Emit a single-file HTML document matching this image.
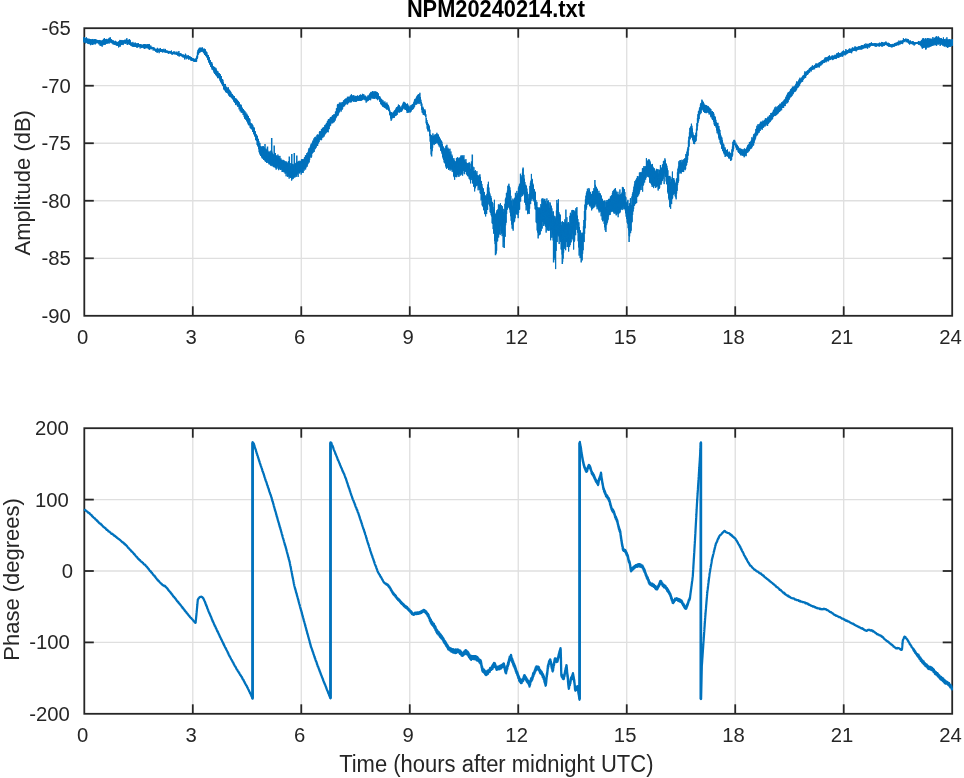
<!DOCTYPE html>
<html><head><meta charset="utf-8"><style>
html,body{margin:0;padding:0;background:#fff;}
svg{display:block;will-change:transform;}
text{font-family:"Liberation Sans",Arial,sans-serif;fill:#262626;}
.t{font-size:20.3px;}
.ti{font-size:21.8px;font-weight:bold;fill:#000;}
.xl{font-size:22px;}
</style></head><body>
<svg width="964" height="778" viewBox="0 0 964 778">
<line x1="192.79" y1="28.20" x2="192.79" y2="315.80" stroke="#dfdfdf" stroke-width="1.3"/>
<line x1="301.28" y1="28.20" x2="301.28" y2="315.80" stroke="#dfdfdf" stroke-width="1.3"/>
<line x1="409.76" y1="28.20" x2="409.76" y2="315.80" stroke="#dfdfdf" stroke-width="1.3"/>
<line x1="518.25" y1="28.20" x2="518.25" y2="315.80" stroke="#dfdfdf" stroke-width="1.3"/>
<line x1="626.74" y1="28.20" x2="626.74" y2="315.80" stroke="#dfdfdf" stroke-width="1.3"/>
<line x1="735.23" y1="28.20" x2="735.23" y2="315.80" stroke="#dfdfdf" stroke-width="1.3"/>
<line x1="843.71" y1="28.20" x2="843.71" y2="315.80" stroke="#dfdfdf" stroke-width="1.3"/>
<line x1="84.30" y1="85.72" x2="952.20" y2="85.72" stroke="#dfdfdf" stroke-width="1.3"/>
<line x1="84.30" y1="143.24" x2="952.20" y2="143.24" stroke="#dfdfdf" stroke-width="1.3"/>
<line x1="84.30" y1="200.76" x2="952.20" y2="200.76" stroke="#dfdfdf" stroke-width="1.3"/>
<line x1="84.30" y1="258.28" x2="952.20" y2="258.28" stroke="#dfdfdf" stroke-width="1.3"/>
<line x1="192.79" y1="428.20" x2="192.79" y2="713.80" stroke="#dfdfdf" stroke-width="1.3"/>
<line x1="301.28" y1="428.20" x2="301.28" y2="713.80" stroke="#dfdfdf" stroke-width="1.3"/>
<line x1="409.76" y1="428.20" x2="409.76" y2="713.80" stroke="#dfdfdf" stroke-width="1.3"/>
<line x1="518.25" y1="428.20" x2="518.25" y2="713.80" stroke="#dfdfdf" stroke-width="1.3"/>
<line x1="626.74" y1="428.20" x2="626.74" y2="713.80" stroke="#dfdfdf" stroke-width="1.3"/>
<line x1="735.23" y1="428.20" x2="735.23" y2="713.80" stroke="#dfdfdf" stroke-width="1.3"/>
<line x1="843.71" y1="428.20" x2="843.71" y2="713.80" stroke="#dfdfdf" stroke-width="1.3"/>
<line x1="84.30" y1="499.60" x2="952.20" y2="499.60" stroke="#dfdfdf" stroke-width="1.3"/>
<line x1="84.30" y1="571.00" x2="952.20" y2="571.00" stroke="#dfdfdf" stroke-width="1.3"/>
<line x1="84.30" y1="642.40" x2="952.20" y2="642.40" stroke="#dfdfdf" stroke-width="1.3"/>
<rect x="84.30" y="28.20" width="867.90" height="287.60" fill="none" stroke="#262626" stroke-width="1.8"/>
<line x1="192.79" y1="28.20" x2="192.79" y2="37.70" stroke="#262626" stroke-width="1.8"/>
<line x1="192.79" y1="315.80" x2="192.79" y2="306.30" stroke="#262626" stroke-width="1.8"/>
<line x1="301.28" y1="28.20" x2="301.28" y2="37.70" stroke="#262626" stroke-width="1.8"/>
<line x1="301.28" y1="315.80" x2="301.28" y2="306.30" stroke="#262626" stroke-width="1.8"/>
<line x1="409.76" y1="28.20" x2="409.76" y2="37.70" stroke="#262626" stroke-width="1.8"/>
<line x1="409.76" y1="315.80" x2="409.76" y2="306.30" stroke="#262626" stroke-width="1.8"/>
<line x1="518.25" y1="28.20" x2="518.25" y2="37.70" stroke="#262626" stroke-width="1.8"/>
<line x1="518.25" y1="315.80" x2="518.25" y2="306.30" stroke="#262626" stroke-width="1.8"/>
<line x1="626.74" y1="28.20" x2="626.74" y2="37.70" stroke="#262626" stroke-width="1.8"/>
<line x1="626.74" y1="315.80" x2="626.74" y2="306.30" stroke="#262626" stroke-width="1.8"/>
<line x1="735.23" y1="28.20" x2="735.23" y2="37.70" stroke="#262626" stroke-width="1.8"/>
<line x1="735.23" y1="315.80" x2="735.23" y2="306.30" stroke="#262626" stroke-width="1.8"/>
<line x1="843.71" y1="28.20" x2="843.71" y2="37.70" stroke="#262626" stroke-width="1.8"/>
<line x1="843.71" y1="315.80" x2="843.71" y2="306.30" stroke="#262626" stroke-width="1.8"/>
<line x1="84.30" y1="85.72" x2="93.80" y2="85.72" stroke="#262626" stroke-width="1.8"/>
<line x1="952.20" y1="85.72" x2="942.70" y2="85.72" stroke="#262626" stroke-width="1.8"/>
<line x1="84.30" y1="143.24" x2="93.80" y2="143.24" stroke="#262626" stroke-width="1.8"/>
<line x1="952.20" y1="143.24" x2="942.70" y2="143.24" stroke="#262626" stroke-width="1.8"/>
<line x1="84.30" y1="200.76" x2="93.80" y2="200.76" stroke="#262626" stroke-width="1.8"/>
<line x1="952.20" y1="200.76" x2="942.70" y2="200.76" stroke="#262626" stroke-width="1.8"/>
<line x1="84.30" y1="258.28" x2="93.80" y2="258.28" stroke="#262626" stroke-width="1.8"/>
<line x1="952.20" y1="258.28" x2="942.70" y2="258.28" stroke="#262626" stroke-width="1.8"/>
<rect x="84.30" y="428.20" width="867.90" height="285.60" fill="none" stroke="#262626" stroke-width="1.8"/>
<line x1="192.79" y1="428.20" x2="192.79" y2="437.70" stroke="#262626" stroke-width="1.8"/>
<line x1="192.79" y1="713.80" x2="192.79" y2="704.30" stroke="#262626" stroke-width="1.8"/>
<line x1="301.28" y1="428.20" x2="301.28" y2="437.70" stroke="#262626" stroke-width="1.8"/>
<line x1="301.28" y1="713.80" x2="301.28" y2="704.30" stroke="#262626" stroke-width="1.8"/>
<line x1="409.76" y1="428.20" x2="409.76" y2="437.70" stroke="#262626" stroke-width="1.8"/>
<line x1="409.76" y1="713.80" x2="409.76" y2="704.30" stroke="#262626" stroke-width="1.8"/>
<line x1="518.25" y1="428.20" x2="518.25" y2="437.70" stroke="#262626" stroke-width="1.8"/>
<line x1="518.25" y1="713.80" x2="518.25" y2="704.30" stroke="#262626" stroke-width="1.8"/>
<line x1="626.74" y1="428.20" x2="626.74" y2="437.70" stroke="#262626" stroke-width="1.8"/>
<line x1="626.74" y1="713.80" x2="626.74" y2="704.30" stroke="#262626" stroke-width="1.8"/>
<line x1="735.23" y1="428.20" x2="735.23" y2="437.70" stroke="#262626" stroke-width="1.8"/>
<line x1="735.23" y1="713.80" x2="735.23" y2="704.30" stroke="#262626" stroke-width="1.8"/>
<line x1="843.71" y1="428.20" x2="843.71" y2="437.70" stroke="#262626" stroke-width="1.8"/>
<line x1="843.71" y1="713.80" x2="843.71" y2="704.30" stroke="#262626" stroke-width="1.8"/>
<line x1="84.30" y1="499.60" x2="93.80" y2="499.60" stroke="#262626" stroke-width="1.8"/>
<line x1="952.20" y1="499.60" x2="942.70" y2="499.60" stroke="#262626" stroke-width="1.8"/>
<line x1="84.30" y1="571.00" x2="93.80" y2="571.00" stroke="#262626" stroke-width="1.8"/>
<line x1="952.20" y1="571.00" x2="942.70" y2="571.00" stroke="#262626" stroke-width="1.8"/>
<line x1="84.30" y1="642.40" x2="93.80" y2="642.40" stroke="#262626" stroke-width="1.8"/>
<line x1="952.20" y1="642.40" x2="942.70" y2="642.40" stroke="#262626" stroke-width="1.8"/>
<clipPath id="c1"><rect x="83.2" y="28.2" width="869.8" height="287.6"/></clipPath>
<path d="M83.40,37.33 L83.65,41.77 L83.90,37.33 L84.15,42.75 L84.40,37.41 L84.65,41.74 L84.90,38.07 L85.15,41.58 L85.40,38.34 L85.65,43.40 L85.90,38.06 L86.15,42.74 L86.40,37.29 L86.65,42.38 L86.90,38.21 L87.15,42.86 L87.40,39.04 L87.65,43.67 L87.90,38.65 L88.15,43.13 L88.40,39.72 L88.65,44.07 L88.90,38.78 L89.15,43.53 L89.40,38.92 L89.65,44.02 L89.90,39.15 L90.15,44.46 L90.40,39.16 L90.65,45.20 L90.90,39.81 L91.15,44.12 L91.40,39.29 L91.65,44.11 L91.90,40.58 L92.15,44.98 L92.40,39.02 L92.65,44.90 L92.90,38.96 L93.15,44.48 L93.40,40.13 L93.65,43.58 L93.90,39.50 L94.15,44.09 L94.40,39.19 L94.65,43.09 L94.90,39.30 L95.15,44.47 L95.40,39.43 L95.65,43.76 L95.90,39.26 L96.15,42.82 L96.40,40.23 L96.65,43.17 L96.90,39.85 L97.15,43.30 L97.40,40.10 L97.65,42.67 L97.90,40.44 L98.15,42.79 L98.40,40.30 L98.65,43.65 L98.90,40.28 L99.15,44.57 L99.40,39.97 L99.65,43.99 L99.90,40.62 L100.15,45.83 L100.40,40.58 L100.65,45.39 L100.90,40.51 L101.15,45.95 L101.40,40.79 L101.65,45.37 L101.90,40.89 L102.15,46.71 L102.40,40.35 L102.65,44.82 L102.90,40.25 L103.15,45.16 L103.40,38.90 L103.65,44.29 L103.90,39.48 L104.15,44.58 L104.40,38.11 L104.65,44.58 L104.90,39.75 L105.15,44.84 L105.40,39.21 L105.65,43.93 L105.90,39.31 L106.15,43.74 L106.40,38.90 L106.65,43.33 L106.90,39.23 L107.15,43.81 L107.40,39.56 L107.65,42.97 L107.90,39.77 L108.15,43.28 L108.40,38.60 L108.65,43.05 L108.90,38.84 L109.15,43.58 L109.40,37.70 L109.65,42.11 L109.90,38.39 L110.15,42.15 L110.40,37.39 L110.65,42.38 L110.90,39.64 L111.15,43.07 L111.40,39.23 L111.65,43.13 L111.90,39.85 L112.15,43.17 L112.40,40.47 L112.65,43.55 L112.90,40.53 L113.15,44.48 L113.40,40.60 L113.65,43.74 L113.90,40.89 L114.15,44.59 L114.40,41.65 L114.65,44.76 L114.90,41.80 L115.15,44.32 L115.40,40.82 L115.65,44.79 L115.90,42.27 L116.15,45.38 L116.40,41.62 L116.65,45.51 L116.90,42.06 L117.15,45.51 L117.40,42.27 L117.65,45.97 L117.90,41.85 L118.15,45.59 L118.40,42.13 L118.65,47.44 L118.90,41.20 L119.15,45.92 L119.40,41.09 L119.65,46.47 L119.90,39.90 L120.15,46.68 L120.40,40.24 L120.65,45.38 L120.90,40.55 L121.15,44.96 L121.40,40.56 L121.65,44.63 L121.90,39.96 L122.15,44.65 L122.40,40.45 L122.65,44.25 L122.90,40.82 L123.15,45.08 L123.40,40.54 L123.65,43.68 L123.90,40.26 L124.15,43.08 L124.40,40.13 L124.65,43.54 L124.90,39.69 L125.15,42.93 L125.40,39.93 L125.65,43.90 L125.90,39.92 L126.15,43.16 L126.40,38.89 L126.65,43.26 L126.90,38.21 L127.15,44.72 L127.40,40.37 L127.65,44.93 L127.90,40.01 L128.15,43.87 L128.40,39.94 L128.65,44.20 L128.90,39.76 L129.15,44.11 L129.40,39.06 L129.65,44.77 L129.90,39.84 L130.15,45.01 L130.40,40.59 L130.65,45.30 L130.90,42.01 L131.15,45.96 L131.40,43.10 L131.65,45.96 L131.90,42.73 L132.15,46.46 L132.40,43.68 L132.65,46.39 L132.90,41.90 L133.15,46.71 L133.40,43.46 L133.65,46.72 L133.90,43.50 L134.15,46.63 L134.40,43.78 L134.65,46.67 L134.90,42.69 L135.15,46.99 L135.40,42.76 L135.65,46.92 L135.90,43.21 L136.15,46.78 L136.40,43.64 L136.65,47.45 L136.90,44.12 L137.15,47.49 L137.40,43.32 L137.65,47.42 L137.90,43.80 L138.15,47.12 L138.40,43.08 L138.65,47.02 L138.90,44.64 L139.15,46.77 L139.40,44.58 L139.65,46.64 L139.90,44.06 L140.15,48.49 L140.40,44.09 L140.65,47.03 L140.90,44.32 L141.15,47.29 L141.40,44.75 L141.65,48.05 L141.90,44.72 L142.15,47.54 L142.40,44.88 L142.65,47.24 L142.90,44.87 L143.15,48.03 L143.40,44.53 L143.65,47.48 L143.90,44.25 L144.15,48.72 L144.40,44.22 L144.65,48.99 L144.90,44.14 L145.15,47.92 L145.40,44.97 L145.65,48.29 L145.90,44.07 L146.15,48.20 L146.40,44.71 L146.65,47.92 L146.90,45.06 L147.15,48.11 L147.40,44.47 L147.65,48.19 L147.90,44.02 L148.15,48.39 L148.40,44.24 L148.65,48.80 L148.90,45.32 L149.15,49.61 L149.40,43.98 L149.65,49.84 L149.90,45.77 L150.15,48.68 L150.40,45.87 L150.65,49.10 L150.90,45.64 L151.15,48.97 L151.40,47.01 L151.65,49.24 L151.90,46.82 L152.15,48.97 L152.40,47.47 L152.65,48.96 L152.90,47.48 L153.15,50.55 L153.40,47.32 L153.65,49.85 L153.90,47.15 L154.15,50.14 L154.40,48.17 L154.65,50.55 L154.90,48.28 L155.15,50.59 L155.40,49.04 L155.65,51.79 L155.90,49.07 L156.15,51.27 L156.40,48.98 L156.65,51.87 L156.90,48.72 L157.15,52.93 L157.40,47.84 L157.65,51.88 L157.90,48.98 L158.15,51.16 L158.40,48.85 L158.65,51.86 L158.90,48.82 L159.15,53.20 L159.40,48.92 L159.65,51.39 L159.90,48.66 L160.15,51.79 L160.40,47.97 L160.65,51.82 L160.90,49.48 L161.15,51.81 L161.40,49.10 L161.65,52.05 L161.90,49.48 L162.15,51.42 L162.40,49.22 L162.65,52.50 L162.90,49.32 L163.15,52.00 L163.40,50.03 L163.65,51.92 L163.90,48.74 L164.15,52.37 L164.40,49.86 L164.65,52.08 L164.90,49.89 L165.15,52.46 L165.40,48.93 L165.65,52.53 L165.90,50.61 L166.15,52.67 L166.40,50.81 L166.65,52.48 L166.90,50.32 L167.15,52.89 L167.40,50.81 L167.65,53.12 L167.90,51.20 L168.15,53.27 L168.40,50.88 L168.65,53.88 L168.90,51.39 L169.15,53.09 L169.40,50.95 L169.65,53.19 L169.90,51.20 L170.15,53.34 L170.40,51.24 L170.65,53.27 L170.90,51.73 L171.15,53.92 L171.40,50.51 L171.65,54.02 L171.90,51.78 L172.15,55.01 L172.40,52.11 L172.65,53.54 L172.90,52.09 L173.15,53.86 L173.40,52.12 L173.65,54.14 L173.90,51.20 L174.15,54.20 L174.40,52.24 L174.65,54.14 L174.90,51.56 L175.15,54.42 L175.40,52.68 L175.65,54.08 L175.90,52.62 L176.15,54.55 L176.40,52.43 L176.65,54.76 L176.90,51.56 L177.15,54.75 L177.40,52.62 L177.65,55.66 L177.90,52.80 L178.15,55.25 L178.40,52.66 L178.65,55.61 L178.90,50.99 L179.15,56.62 L179.40,53.39 L179.65,55.76 L179.90,53.18 L180.15,56.11 L180.40,53.22 L180.65,55.79 L180.90,53.47 L181.15,55.97 L181.40,53.80 L181.65,56.17 L181.90,54.13 L182.15,56.87 L182.40,54.92 L182.65,57.29 L182.90,54.53 L183.15,56.77 L183.40,54.73 L183.65,57.49 L183.90,54.85 L184.15,57.36 L184.40,55.06 L184.65,59.44 L184.90,55.00 L185.15,57.91 L185.40,53.68 L185.65,57.51 L185.90,54.56 L186.15,59.31 L186.40,55.81 L186.65,58.29 L186.90,55.87 L187.15,57.83 L187.40,55.86 L187.65,58.52 L187.90,55.42 L188.15,58.26 L188.40,55.40 L188.65,59.65 L188.90,56.17 L189.15,58.69 L189.40,56.18 L189.65,59.35 L189.90,56.04 L190.15,58.93 L190.40,57.08 L190.65,60.04 L190.90,56.99 L191.15,61.04 L191.40,57.08 L191.65,60.55 L191.90,57.89 L192.15,60.49 L192.40,58.16 L192.65,61.00 L192.90,58.27 L193.15,60.79 L193.40,58.56 L193.65,61.47 L193.90,58.78 L194.15,61.80 L194.40,59.37 L194.65,62.00 L194.90,58.83 L195.15,61.95 L195.40,58.73 L195.65,61.52 L195.90,58.62 L196.15,62.04 L196.40,57.47 L196.65,61.47 L196.90,55.72 L197.15,59.04 L197.40,52.34 L197.65,57.68 L197.90,50.29 L198.15,54.72 L198.40,49.19 L198.65,54.25 L198.90,48.60 L199.15,52.58 L199.40,47.71 L199.65,52.98 L199.90,48.11 L200.15,52.24 L200.40,47.70 L200.65,51.51 L200.90,47.88 L201.15,51.79 L201.40,47.76 L201.65,51.56 L201.90,48.69 L202.15,50.74 L202.40,47.40 L202.65,51.69 L202.90,48.42 L203.15,52.22 L203.40,48.95 L203.65,53.26 L203.90,49.24 L204.15,52.91 L204.40,48.62 L204.65,54.98 L204.90,49.18 L205.15,53.72 L205.40,49.45 L205.65,56.11 L205.90,50.93 L206.15,55.00 L206.40,52.11 L206.65,57.07 L206.90,52.26 L207.15,58.01 L207.40,54.78 L207.65,59.74 L207.90,55.81 L208.15,60.22 L208.40,54.96 L208.65,62.24 L208.90,57.37 L209.15,62.90 L209.40,57.43 L209.65,64.40 L209.90,59.94 L210.15,64.88 L210.40,60.05 L210.65,66.80 L210.90,61.91 L211.15,67.05 L211.40,62.13 L211.65,68.25 L211.90,62.42 L212.15,69.72 L212.40,64.22 L212.65,69.37 L212.90,66.20 L213.15,70.26 L213.40,66.39 L213.65,71.49 L213.90,67.84 L214.15,72.91 L214.40,66.87 L214.65,73.79 L214.90,67.39 L215.15,73.51 L215.40,68.97 L215.65,75.21 L215.90,67.92 L216.15,74.61 L216.40,69.56 L216.65,76.34 L216.90,70.66 L217.15,75.46 L217.40,71.39 L217.65,78.14 L217.90,71.31 L218.15,78.14 L218.40,72.80 L218.65,77.55 L218.90,73.14 L219.15,78.22 L219.40,73.28 L219.65,79.45 L219.90,75.63 L220.15,81.06 L220.40,74.24 L220.65,82.36 L220.90,76.07 L221.15,82.11 L221.40,76.04 L221.65,83.84 L221.90,78.95 L222.15,84.60 L222.40,79.18 L222.65,85.95 L222.90,79.76 L223.15,86.22 L223.40,82.27 L223.65,88.90 L223.90,84.30 L224.15,90.06 L224.40,83.91 L224.65,89.79 L224.90,85.45 L225.15,91.09 L225.40,83.97 L225.65,91.94 L225.90,86.56 L226.15,92.52 L226.40,86.86 L226.65,92.61 L226.90,86.98 L227.15,92.62 L227.40,88.22 L227.65,93.14 L227.90,88.88 L228.15,94.15 L228.40,87.33 L228.65,95.42 L228.90,89.45 L229.15,95.29 L229.40,89.85 L229.65,96.53 L229.90,90.54 L230.15,96.77 L230.40,91.37 L230.65,96.68 L230.90,91.92 L231.15,97.56 L231.40,93.56 L231.65,97.76 L231.90,94.18 L232.15,98.67 L232.40,93.94 L232.65,99.33 L232.90,95.51 L233.15,99.42 L233.40,95.70 L233.65,101.30 L233.90,96.15 L234.15,101.74 L234.40,96.30 L234.65,102.49 L234.90,97.94 L235.15,103.05 L235.40,98.36 L235.65,105.06 L235.90,98.93 L236.15,102.96 L236.40,98.69 L236.65,104.34 L236.90,99.53 L237.15,105.46 L237.40,99.99 L237.65,106.71 L237.90,100.87 L238.15,105.98 L238.40,101.10 L238.65,106.73 L238.90,102.83 L239.15,109.41 L239.40,102.41 L239.65,108.98 L239.90,104.19 L240.15,111.30 L240.40,105.06 L240.65,111.03 L240.90,104.60 L241.15,112.48 L241.40,105.48 L241.65,112.46 L241.90,107.80 L242.15,112.80 L242.40,107.74 L242.65,112.82 L242.90,109.09 L243.15,115.01 L243.40,109.02 L243.65,114.45 L243.90,111.01 L244.15,116.90 L244.40,110.50 L244.65,118.62 L244.90,111.10 L245.15,118.59 L245.40,113.31 L245.65,119.49 L245.90,112.41 L246.15,119.95 L246.40,114.61 L246.65,120.96 L246.90,113.76 L247.15,121.89 L247.40,115.14 L247.65,122.82 L247.90,116.21 L248.15,124.26 L248.40,115.91 L248.65,125.26 L248.90,118.29 L249.15,124.38 L249.40,118.27 L249.65,125.38 L249.90,119.25 L250.15,127.75 L250.40,122.70 L250.65,128.22 L250.90,123.60 L251.15,128.84 L251.40,123.49 L251.65,129.10 L251.90,123.68 L252.15,129.74 L252.40,124.69 L252.65,131.88 L252.90,125.40 L253.15,132.02 L253.40,127.63 L253.65,133.96 L253.90,127.12 L254.15,134.67 L254.40,128.03 L254.65,136.24 L254.90,131.32 L255.15,136.75 L255.40,131.43 L255.65,140.03 L255.90,133.90 L256.15,140.42 L256.40,134.55 L256.65,141.08 L256.90,136.54 L257.15,144.97 L257.40,135.76 L257.65,145.70 L257.90,138.75 L258.15,146.90 L258.40,138.91 L258.65,149.18 L258.90,141.16 L259.15,152.22 L259.40,142.97 L259.65,153.46 L259.90,142.93 L260.15,154.74 L260.40,145.93 L260.65,155.89 L260.90,146.64 L261.15,155.42 L261.40,146.92 L261.65,157.18 L261.90,146.50 L262.15,158.28 L262.40,146.39 L262.65,158.22 L262.90,148.61 L263.15,158.85 L263.40,146.17 L263.65,159.96 L263.90,147.96 L264.15,158.52 L264.40,147.34 L264.65,160.27 L264.90,149.49 L265.15,161.33 L265.40,150.35 L265.65,161.71 L265.90,148.53 L266.15,160.48 L266.40,149.59 L266.65,162.88 L266.90,150.17 L267.15,163.00 L267.40,152.16 L267.65,161.36 L267.90,150.69 L268.15,161.76 L268.40,152.09 L268.65,163.43 L268.90,151.71 L269.15,164.44 L269.40,152.56 L269.65,164.22 L269.90,151.41 L270.15,163.97 L270.40,153.56 L270.65,165.38 L270.90,150.64 L271.15,165.87 L271.40,150.80 L271.65,164.69 L271.90,151.59 L272.15,166.21 L272.40,153.27 L272.65,164.84 L272.90,153.94 L273.15,166.40 L273.40,154.64 L273.65,166.86 L273.90,155.52 L274.15,167.38 L274.40,153.63 L274.65,167.18 L274.90,154.73 L275.15,166.81 L275.40,152.97 L275.65,168.09 L275.90,155.90 L276.15,169.63 L276.40,155.50 L276.65,168.54 L276.90,155.73 L277.15,167.64 L277.40,156.83 L277.65,166.40 L277.90,154.55 L278.15,168.95 L278.40,155.96 L278.65,170.18 L278.90,155.96 L279.15,167.37 L279.40,158.24 L279.65,168.66 L279.90,155.90 L280.15,169.70 L280.40,159.01 L280.65,169.69 L280.90,158.36 L281.15,169.97 L281.40,159.82 L281.65,168.90 L281.90,160.54 L282.15,172.02 L282.40,160.72 L282.65,171.85 L282.90,159.76 L283.15,171.63 L283.40,160.64 L283.65,171.61 L283.90,160.16 L284.15,172.44 L284.40,161.13 L284.65,171.80 L284.90,163.72 L285.15,173.75 L285.40,162.21 L285.65,173.17 L285.90,161.00 L286.15,176.30 L286.40,162.11 L286.65,172.81 L286.90,163.89 L287.15,173.69 L287.40,162.55 L287.65,176.83 L287.90,165.54 L288.15,176.64 L288.40,161.07 L288.65,175.66 L288.90,162.81 L289.15,178.65 L289.40,164.78 L289.65,177.00 L289.90,163.81 L290.15,176.80 L290.40,166.21 L290.65,177.94 L290.90,162.97 L291.15,177.51 L291.40,163.90 L291.65,180.59 L291.90,164.55 L292.15,177.31 L292.40,164.30 L292.65,179.28 L292.90,163.82 L293.15,178.81 L293.40,164.63 L293.65,177.77 L293.90,165.51 L294.15,175.91 L294.40,165.77 L294.65,177.45 L294.90,163.73 L295.15,177.22 L295.40,163.26 L295.65,174.98 L295.90,164.39 L296.15,176.57 L296.40,161.80 L296.65,176.53 L296.90,161.97 L297.15,174.66 L297.40,161.79 L297.65,173.68 L297.90,162.08 L298.15,176.94 L298.40,161.61 L298.65,172.61 L298.90,160.89 L299.15,173.33 L299.40,162.11 L299.65,173.28 L299.90,160.81 L300.15,172.08 L300.40,161.28 L300.65,172.16 L300.90,161.72 L301.15,174.62 L301.40,159.65 L301.65,173.03 L301.90,159.17 L302.15,172.99 L302.40,159.58 L302.65,171.89 L302.90,159.13 L303.15,172.92 L303.40,160.15 L303.65,169.15 L303.90,158.93 L304.15,170.67 L304.40,157.47 L304.65,168.90 L304.90,157.09 L305.15,168.23 L305.40,155.22 L305.65,169.50 L305.90,155.84 L306.15,167.51 L306.40,155.35 L306.65,165.57 L306.90,153.00 L307.15,166.68 L307.40,153.54 L307.65,164.68 L307.90,152.22 L308.15,163.61 L308.40,150.54 L308.65,162.03 L308.90,148.41 L309.15,162.50 L309.40,148.68 L309.65,159.95 L309.90,147.61 L310.15,157.33 L310.40,146.30 L310.65,156.39 L310.90,144.50 L311.15,157.84 L311.40,143.53 L311.65,156.62 L311.90,144.33 L312.15,153.67 L312.40,142.16 L312.65,152.91 L312.90,140.58 L313.15,152.52 L313.40,141.12 L313.65,150.43 L313.90,138.47 L314.15,151.91 L314.40,138.73 L314.65,148.39 L314.90,137.16 L315.15,149.21 L315.40,136.76 L315.65,148.17 L315.90,138.61 L316.15,147.52 L316.40,137.91 L316.65,145.74 L316.90,135.35 L317.15,145.40 L317.40,134.43 L317.65,145.99 L317.90,135.15 L318.15,143.61 L318.40,134.95 L318.65,142.76 L318.90,134.53 L319.15,141.89 L319.40,132.02 L319.65,139.90 L319.90,131.01 L320.15,138.93 L320.40,131.65 L320.65,139.90 L320.90,131.22 L321.15,140.27 L321.40,129.11 L321.65,139.77 L321.90,129.43 L322.15,137.40 L322.40,127.80 L322.65,137.55 L322.90,129.77 L323.15,137.32 L323.40,127.65 L323.65,135.74 L323.90,127.15 L324.15,136.49 L324.40,126.74 L324.65,134.78 L324.90,124.93 L325.15,134.26 L325.40,125.45 L325.65,133.20 L325.90,124.33 L326.15,133.18 L326.40,122.88 L326.65,131.62 L326.90,123.71 L327.15,131.91 L327.40,120.93 L327.65,132.06 L327.90,120.78 L328.15,132.33 L328.40,119.15 L328.65,128.82 L328.90,119.03 L329.15,129.18 L329.40,119.30 L329.65,126.59 L329.90,118.51 L330.15,125.38 L330.40,117.13 L330.65,125.61 L330.90,117.01 L331.15,123.62 L331.40,116.72 L331.65,121.92 L331.90,117.53 L332.15,123.02 L332.40,115.49 L332.65,123.35 L332.90,115.22 L333.15,122.48 L333.40,115.62 L333.65,122.21 L333.90,114.25 L334.15,122.16 L334.40,114.69 L334.65,119.99 L334.90,114.25 L335.15,120.62 L335.40,111.66 L335.65,118.70 L335.90,111.57 L336.15,117.64 L336.40,108.43 L336.65,117.07 L336.90,108.16 L337.15,114.88 L337.40,104.80 L337.65,115.90 L337.90,103.95 L338.15,115.35 L338.40,103.94 L338.65,113.68 L338.90,105.53 L339.15,112.23 L339.40,102.58 L339.65,112.27 L339.90,105.19 L340.15,110.34 L340.40,103.31 L340.65,110.14 L340.90,102.38 L341.15,111.60 L341.40,104.12 L341.65,109.42 L341.90,102.54 L342.15,109.75 L342.40,102.04 L342.65,108.79 L342.90,102.24 L343.15,106.90 L343.40,100.73 L343.65,106.42 L343.90,100.27 L344.15,105.84 L344.40,100.33 L344.65,106.27 L344.90,99.16 L345.15,104.67 L345.40,98.91 L345.65,104.39 L345.90,98.49 L346.15,103.48 L346.40,98.89 L346.65,103.39 L346.90,98.28 L347.15,104.48 L347.40,96.77 L347.65,104.29 L347.90,97.79 L348.15,102.98 L348.40,96.82 L348.65,103.16 L348.90,96.80 L349.15,101.66 L349.40,97.09 L349.65,101.74 L349.90,96.58 L350.15,102.60 L350.40,95.42 L350.65,101.41 L350.90,96.34 L351.15,102.16 L351.40,94.24 L351.65,102.19 L351.90,96.26 L352.15,101.01 L352.40,95.72 L352.65,101.06 L352.90,95.47 L353.15,101.07 L353.40,95.54 L353.65,101.67 L353.90,95.29 L354.15,101.79 L354.40,96.53 L354.65,100.64 L354.90,96.78 L355.15,101.55 L355.40,95.89 L355.65,101.82 L355.90,96.42 L356.15,101.57 L356.40,96.26 L356.65,101.45 L356.90,96.35 L357.15,100.79 L357.40,95.40 L357.65,100.64 L357.90,96.03 L358.15,100.51 L358.40,96.14 L358.65,101.02 L358.90,96.52 L359.15,100.05 L359.40,95.00 L359.65,100.78 L359.90,95.68 L360.15,100.91 L360.40,94.49 L360.65,100.54 L360.90,95.95 L361.15,100.71 L361.40,95.16 L361.65,100.37 L361.90,95.08 L362.15,99.91 L362.40,93.84 L362.65,100.11 L362.90,93.99 L363.15,99.44 L363.40,94.84 L363.65,98.80 L363.90,94.42 L364.15,99.60 L364.40,96.09 L364.65,99.51 L364.90,95.65 L365.15,100.40 L365.40,95.80 L365.65,99.99 L365.90,96.24 L366.15,102.63 L366.40,97.67 L366.65,101.42 L366.90,97.03 L367.15,101.32 L367.40,97.19 L367.65,101.11 L367.90,95.54 L368.15,100.99 L368.40,95.76 L368.65,99.89 L368.90,95.55 L369.15,99.00 L369.40,94.22 L369.65,100.09 L369.90,93.53 L370.15,99.14 L370.40,93.10 L370.65,100.22 L370.90,91.91 L371.15,98.52 L371.40,92.70 L371.65,97.38 L371.90,92.03 L372.15,98.26 L372.40,91.05 L372.65,98.36 L372.90,92.03 L373.15,98.46 L373.40,92.65 L373.65,98.50 L373.90,91.21 L374.15,98.39 L374.40,92.30 L374.65,98.90 L374.90,91.41 L375.15,97.88 L375.40,91.89 L375.65,97.41 L375.90,91.40 L376.15,99.09 L376.40,92.00 L376.65,99.08 L376.90,94.25 L377.15,98.09 L377.40,92.22 L377.65,100.20 L377.90,93.79 L378.15,98.47 L378.40,93.43 L378.65,99.05 L378.90,96.32 L379.15,99.54 L379.40,96.38 L379.65,101.62 L379.90,96.53 L380.15,102.02 L380.40,97.73 L380.65,103.84 L380.90,98.93 L381.15,104.50 L381.40,98.83 L381.65,104.83 L381.90,99.54 L382.15,105.62 L382.40,101.49 L382.65,106.42 L382.90,100.13 L383.15,106.90 L383.40,101.71 L383.65,106.87 L383.90,102.47 L384.15,107.47 L384.40,102.45 L384.65,107.60 L384.90,101.42 L385.15,108.09 L385.40,103.66 L385.65,108.19 L385.90,103.12 L386.15,108.74 L386.40,104.05 L386.65,109.53 L386.90,102.50 L387.15,109.16 L387.40,104.09 L387.65,109.41 L387.90,104.68 L388.15,109.64 L388.40,105.33 L388.65,110.76 L388.90,106.56 L389.15,111.36 L389.40,108.61 L389.65,114.75 L389.90,110.50 L390.15,115.59 L390.40,111.93 L390.65,118.52 L390.90,112.59 L391.15,120.81 L391.40,112.23 L391.65,119.84 L391.90,112.72 L392.15,118.02 L392.40,112.85 L392.65,118.28 L392.90,113.43 L393.15,116.37 L393.40,111.71 L393.65,117.80 L393.90,111.95 L394.15,117.94 L394.40,110.74 L394.65,116.47 L394.90,110.28 L395.15,116.05 L395.40,109.73 L395.65,115.68 L395.90,108.62 L396.15,115.59 L396.40,107.57 L396.65,115.08 L396.90,107.01 L397.15,114.78 L397.40,107.03 L397.65,112.27 L397.90,106.30 L398.15,112.55 L398.40,104.55 L398.65,111.77 L398.90,105.08 L399.15,111.08 L399.40,105.36 L399.65,112.64 L399.90,106.21 L400.15,111.90 L400.40,107.33 L400.65,111.31 L400.90,107.87 L401.15,111.61 L401.40,107.84 L401.65,111.61 L401.90,105.69 L402.15,110.59 L402.40,104.88 L402.65,109.93 L402.90,103.57 L403.15,108.52 L403.40,102.31 L403.65,108.45 L403.90,101.76 L404.15,106.91 L404.40,102.40 L404.65,108.82 L404.90,102.62 L405.15,110.00 L405.40,102.96 L405.65,109.88 L405.90,104.39 L406.15,109.99 L406.40,103.94 L406.65,111.04 L406.90,104.08 L407.15,113.04 L407.40,103.48 L407.65,111.98 L407.90,104.59 L408.15,112.91 L408.40,106.57 L408.65,112.01 L408.90,105.72 L409.15,111.35 L409.40,106.79 L409.65,112.29 L409.90,107.57 L410.15,112.50 L410.40,106.71 L410.65,111.93 L410.90,105.22 L411.15,111.37 L411.40,105.55 L411.65,110.01 L411.90,104.79 L412.15,109.35 L412.40,104.31 L412.65,109.72 L412.90,104.21 L413.15,108.88 L413.40,103.32 L413.65,108.42 L413.90,101.81 L414.15,107.35 L414.40,100.32 L414.65,106.60 L414.90,98.97 L415.15,104.95 L415.40,98.74 L415.65,104.28 L415.90,98.77 L416.15,103.92 L416.40,97.23 L416.65,104.65 L416.90,96.31 L417.15,102.45 L417.40,95.46 L417.65,103.63 L417.90,94.84 L418.15,103.22 L418.40,94.51 L418.65,103.20 L418.90,94.01 L419.15,104.09 L419.40,94.56 L419.65,102.19 L419.90,92.77 L420.15,101.11 L420.40,97.06 L420.65,103.40 L420.90,99.68 L421.15,105.87 L421.40,102.12 L421.65,109.74 L421.90,103.58 L422.15,112.60 L422.40,107.04 L422.65,112.85 L422.90,106.73 L423.15,114.60 L423.40,108.07 L423.65,114.71 L423.90,110.63 L424.15,115.07 L424.40,109.78 L424.65,115.07 L424.90,109.38 L425.15,115.82 L425.40,110.80 L425.65,117.09 L425.90,114.36 L426.15,123.37 L426.40,117.96 L426.65,124.97 L426.90,120.03 L427.15,128.69 L427.40,122.01 L427.65,130.24 L427.90,124.02 L428.15,131.60 L428.40,123.77 L428.65,130.56 L428.90,125.28 L429.15,130.46 L429.40,126.46 L429.65,136.13 L429.90,129.65 L430.15,141.68 L430.40,134.22 L430.65,149.05 L430.90,134.86 L431.15,154.50 L431.40,135.22 L431.65,152.22 L431.90,136.17 L432.15,150.85 L432.40,136.30 L432.65,147.89 L432.90,133.44 L433.15,144.29 L433.40,135.95 L433.65,143.88 L433.90,135.51 L434.15,145.07 L434.40,135.57 L434.65,142.63 L434.90,134.54 L435.15,144.04 L435.40,135.48 L435.65,143.97 L435.90,134.09 L436.15,143.17 L436.40,134.51 L436.65,142.50 L436.90,132.77 L437.15,142.09 L437.40,134.60 L437.65,143.17 L437.90,134.28 L438.15,144.33 L438.40,134.78 L438.65,144.88 L438.90,137.44 L439.15,146.53 L439.40,136.77 L439.65,145.78 L439.90,138.74 L440.15,147.60 L440.40,138.79 L440.65,150.56 L440.90,140.77 L441.15,151.06 L441.40,140.62 L441.65,152.39 L441.90,141.71 L442.15,154.14 L442.40,144.05 L442.65,157.16 L442.90,146.72 L443.15,158.56 L443.40,146.62 L443.65,159.99 L443.90,149.62 L444.15,162.44 L444.40,149.39 L444.65,162.68 L444.90,147.83 L445.15,163.70 L445.40,149.13 L445.65,166.23 L445.90,145.82 L446.15,167.70 L446.40,146.55 L446.65,168.95 L446.90,144.77 L447.15,167.35 L447.40,149.06 L447.65,167.60 L447.90,147.65 L448.15,168.08 L448.40,148.84 L448.65,169.91 L448.90,149.24 L449.15,169.44 L449.40,152.00 L449.65,168.50 L449.90,148.69 L450.15,170.63 L450.40,153.91 L450.65,169.21 L450.90,151.44 L451.15,167.55 L451.40,157.07 L451.65,169.68 L451.90,154.59 L452.15,171.66 L452.40,156.21 L452.65,169.76 L452.90,158.57 L453.15,172.14 L453.40,159.79 L453.65,176.21 L453.90,158.17 L454.15,177.15 L454.40,160.49 L454.65,179.74 L454.90,161.51 L455.15,177.02 L455.40,161.57 L455.65,176.78 L455.90,161.59 L456.15,176.44 L456.40,158.16 L456.65,177.19 L456.90,158.48 L457.15,175.04 L457.40,157.19 L457.65,174.40 L457.90,160.13 L458.15,176.78 L458.40,158.73 L458.65,174.49 L458.90,157.75 L459.15,176.64 L459.40,157.70 L459.65,174.18 L459.90,158.79 L460.15,172.26 L460.40,157.33 L460.65,175.52 L460.90,155.64 L461.15,172.43 L461.40,155.60 L461.65,174.55 L461.90,157.69 L462.15,172.94 L462.40,155.42 L462.65,175.68 L462.90,156.65 L463.15,170.06 L463.40,156.80 L463.65,171.01 L463.90,155.20 L464.15,173.66 L464.40,159.68 L464.65,174.18 L464.90,160.24 L465.15,171.80 L465.40,162.28 L465.65,171.72 L465.90,159.12 L466.15,171.36 L466.40,162.57 L466.65,174.32 L466.90,164.57 L467.15,175.18 L467.40,163.17 L467.65,176.09 L467.90,164.81 L468.15,176.32 L468.40,162.77 L468.65,176.33 L468.90,164.70 L469.15,178.76 L469.40,162.43 L469.65,178.64 L469.90,169.59 L470.15,180.22 L470.40,168.89 L470.65,183.41 L470.90,163.66 L471.15,180.07 L471.40,161.46 L471.65,178.17 L471.90,165.18 L472.15,179.79 L472.40,165.61 L472.65,183.53 L472.90,166.56 L473.15,182.64 L473.40,170.86 L473.65,186.71 L473.90,167.22 L474.15,186.39 L474.40,171.03 L474.65,191.43 L474.90,173.06 L475.15,188.35 L475.40,170.17 L475.65,187.03 L475.90,172.79 L476.15,184.79 L476.40,173.24 L476.65,185.96 L476.90,171.13 L477.15,183.94 L477.40,175.09 L477.65,185.53 L477.90,175.21 L478.15,190.29 L478.40,175.79 L478.65,187.38 L478.90,177.05 L479.15,188.34 L479.40,175.07 L479.65,190.02 L479.90,174.27 L480.15,193.31 L480.40,176.95 L480.65,193.82 L480.90,180.83 L481.15,200.42 L481.40,181.16 L481.65,198.94 L481.90,183.98 L482.15,205.30 L482.40,186.81 L482.65,206.09 L482.90,188.55 L483.15,207.12 L483.40,188.42 L483.65,210.26 L483.90,194.91 L484.15,209.65 L484.40,191.91 L484.65,213.98 L484.90,197.91 L485.15,214.30 L485.40,195.72 L485.65,216.44 L485.90,195.47 L486.15,213.71 L486.40,196.53 L486.65,214.03 L486.90,193.88 L487.15,209.75 L487.40,187.40 L487.65,209.76 L487.90,184.38 L488.15,204.37 L488.40,181.76 L488.65,201.51 L488.90,187.52 L489.15,204.43 L489.40,191.75 L489.65,206.27 L489.90,193.47 L490.15,212.24 L490.40,195.64 L490.65,212.89 L490.90,196.14 L491.15,215.26 L491.40,198.18 L491.65,216.44 L491.90,204.84 L492.15,223.29 L492.40,201.85 L492.65,223.86 L492.90,203.19 L493.15,229.08 L493.40,209.37 L493.65,233.66 L493.90,206.88 L494.15,230.84 L494.40,199.78 L494.65,241.11 L494.90,213.50 L495.15,244.14 L495.40,213.82 L495.65,245.71 L495.90,214.49 L496.15,253.62 L496.40,212.00 L496.65,250.69 L496.90,210.29 L497.15,241.38 L497.40,210.39 L497.65,241.25 L497.90,209.18 L498.15,235.04 L498.40,204.41 L498.65,237.54 L498.90,210.92 L499.15,234.09 L499.40,204.94 L499.65,233.33 L499.90,204.49 L500.15,235.05 L500.40,203.23 L500.65,226.24 L500.90,208.98 L501.15,230.85 L501.40,205.13 L501.65,233.74 L501.90,210.70 L502.15,236.13 L502.40,206.25 L502.65,232.94 L502.90,208.68 L503.15,247.15 L503.40,212.09 L503.65,241.87 L503.90,209.04 L504.15,242.05 L504.40,210.30 L504.65,236.55 L504.90,203.77 L505.15,236.77 L505.40,198.86 L505.65,225.34 L505.90,197.65 L506.15,222.73 L506.40,192.96 L506.65,213.96 L506.90,192.76 L507.15,209.84 L507.40,190.54 L507.65,208.55 L507.90,185.84 L508.15,204.30 L508.40,185.55 L508.65,207.55 L508.90,183.74 L509.15,204.62 L509.40,186.15 L509.65,209.43 L509.90,187.38 L510.15,212.64 L510.40,190.43 L510.65,216.26 L510.90,195.82 L511.15,220.81 L511.40,201.23 L511.65,224.56 L511.90,200.23 L512.15,228.62 L512.40,205.57 L512.65,228.49 L512.90,198.60 L513.15,230.67 L513.40,200.42 L513.65,223.07 L513.90,199.72 L514.15,221.60 L514.40,198.71 L514.65,221.51 L514.90,197.70 L515.15,218.24 L515.40,192.86 L515.65,213.72 L515.90,196.98 L516.15,211.85 L516.40,195.44 L516.65,214.27 L516.90,190.92 L517.15,214.63 L517.40,193.30 L517.65,214.43 L517.90,193.58 L518.15,218.17 L518.40,187.75 L518.65,212.97 L518.90,186.37 L519.15,209.93 L519.40,184.56 L519.65,209.53 L519.90,183.63 L520.15,201.35 L520.40,173.74 L520.65,201.41 L520.90,183.32 L521.15,196.94 L521.40,177.26 L521.65,194.68 L521.90,175.34 L522.15,194.21 L522.40,172.61 L522.65,196.12 L522.90,168.89 L523.15,191.54 L523.40,174.47 L523.65,194.05 L523.90,174.80 L524.15,195.01 L524.40,178.73 L524.65,202.48 L524.90,181.97 L525.15,202.49 L525.40,184.84 L525.65,204.89 L525.90,184.82 L526.15,210.46 L526.40,186.01 L526.65,206.82 L526.90,188.54 L527.15,209.87 L527.40,191.86 L527.65,214.16 L527.90,197.79 L528.15,213.05 L528.40,199.07 L528.65,213.22 L528.90,194.16 L529.15,214.03 L529.40,193.47 L529.65,208.70 L529.90,185.92 L530.15,203.32 L530.40,182.75 L530.65,204.10 L530.90,180.68 L531.15,200.76 L531.40,173.91 L531.65,198.62 L531.90,178.74 L532.15,195.43 L532.40,179.48 L532.65,198.80 L532.90,183.57 L533.15,200.78 L533.40,184.87 L533.65,199.91 L533.90,188.95 L534.15,201.77 L534.40,189.37 L534.65,205.31 L534.90,193.76 L535.15,209.28 L535.40,191.76 L535.65,209.50 L535.90,199.94 L536.15,222.39 L536.40,202.83 L536.65,223.16 L536.90,201.86 L537.15,230.50 L537.40,207.12 L537.65,232.50 L537.90,214.57 L538.15,238.42 L538.40,207.52 L538.65,236.06 L538.90,212.26 L539.15,235.07 L539.40,207.75 L539.65,234.66 L539.90,207.51 L540.15,234.41 L540.40,208.70 L540.65,231.56 L540.90,204.02 L541.15,231.03 L541.40,205.50 L541.65,228.28 L541.90,198.63 L542.15,228.58 L542.40,199.23 L542.65,221.95 L542.90,198.21 L543.15,222.06 L543.40,199.53 L543.65,226.04 L543.90,201.64 L544.15,222.36 L544.40,199.17 L544.65,224.27 L544.90,198.81 L545.15,225.81 L545.40,200.93 L545.65,226.79 L545.90,204.16 L546.15,232.61 L546.40,203.63 L546.65,228.18 L546.90,198.39 L547.15,230.58 L547.40,201.01 L547.65,230.02 L547.90,203.48 L548.15,228.42 L548.40,200.41 L548.65,230.91 L548.90,203.52 L549.15,230.41 L549.40,207.78 L549.65,226.35 L549.90,202.18 L550.15,230.61 L550.40,203.41 L550.65,240.28 L550.90,205.30 L551.15,237.62 L551.40,206.29 L551.65,230.16 L551.90,208.33 L552.15,237.65 L552.40,215.05 L552.65,234.60 L552.90,211.40 L553.15,240.56 L553.40,211.55 L553.65,238.75 L553.90,215.59 L554.15,247.90 L554.40,216.31 L554.65,258.32 L554.90,220.62 L555.15,260.00 L555.40,218.36 L555.65,269.08 L555.90,216.37 L556.15,250.86 L556.40,210.53 L556.65,241.81 L556.90,199.98 L557.15,242.06 L557.40,203.40 L557.65,234.71 L557.90,207.19 L558.15,236.46 L558.40,199.21 L558.65,235.54 L558.90,212.07 L559.15,244.06 L559.40,213.81 L559.65,238.47 L559.90,221.06 L560.15,240.47 L560.40,214.66 L560.65,241.98 L560.90,224.80 L561.15,249.43 L561.40,225.39 L561.65,249.83 L561.90,221.93 L562.15,254.57 L562.40,221.19 L562.65,261.89 L562.90,229.58 L563.15,258.68 L563.40,222.12 L563.65,252.77 L563.90,224.78 L564.15,249.04 L564.40,222.72 L564.65,247.59 L564.90,219.27 L565.15,246.27 L565.40,221.63 L565.65,250.22 L565.90,209.61 L566.15,241.83 L566.40,223.98 L566.65,242.10 L566.90,217.21 L567.15,247.07 L567.40,223.80 L567.65,246.82 L567.90,222.56 L568.15,245.69 L568.40,222.10 L568.65,251.59 L568.90,224.17 L569.15,247.00 L569.40,223.59 L569.65,246.57 L569.90,215.81 L570.15,245.02 L570.40,212.79 L570.65,242.60 L570.90,215.57 L571.15,242.23 L571.40,214.36 L571.65,238.93 L571.90,210.26 L572.15,238.92 L572.40,209.94 L572.65,233.59 L572.90,210.19 L573.15,240.41 L573.40,210.20 L573.65,249.57 L573.90,210.29 L574.15,242.05 L574.40,211.35 L574.65,240.69 L574.90,216.38 L575.15,234.95 L575.40,211.45 L575.65,235.23 L575.90,208.21 L576.15,230.01 L576.40,209.63 L576.65,225.11 L576.90,207.10 L577.15,228.55 L577.40,215.67 L577.65,232.70 L577.90,219.05 L578.15,241.27 L578.40,222.55 L578.65,247.40 L578.90,222.32 L579.15,255.62 L579.40,226.99 L579.65,251.57 L579.90,230.72 L580.15,258.02 L580.40,230.37 L580.65,257.61 L580.90,232.59 L581.15,255.08 L581.40,235.35 L581.65,258.91 L581.90,232.95 L582.15,260.43 L582.40,233.64 L582.65,253.83 L582.90,232.56 L583.15,250.23 L583.40,226.26 L583.65,241.20 L583.90,219.98 L584.15,242.07 L584.40,211.01 L584.65,233.83 L584.90,204.58 L585.15,228.31 L585.40,199.29 L585.65,220.52 L585.90,195.67 L586.15,209.64 L586.40,192.90 L586.65,207.51 L586.90,191.38 L587.15,204.86 L587.40,188.71 L587.65,202.09 L587.90,190.69 L588.15,204.24 L588.40,190.46 L588.65,203.30 L588.90,187.98 L589.15,204.56 L589.40,189.42 L589.65,206.08 L589.90,191.69 L590.15,206.47 L590.40,192.07 L590.65,204.85 L590.90,193.74 L591.15,207.72 L591.40,194.02 L591.65,210.42 L591.90,194.30 L592.15,208.29 L592.40,191.29 L592.65,209.10 L592.90,192.18 L593.15,208.01 L593.40,191.04 L593.65,207.31 L593.90,188.15 L594.15,207.33 L594.40,189.75 L594.65,206.19 L594.90,180.01 L595.15,204.53 L595.40,184.77 L595.65,204.32 L595.90,186.74 L596.15,206.60 L596.40,186.91 L596.65,203.93 L596.90,188.92 L597.15,209.30 L597.40,188.79 L597.65,207.49 L597.90,193.17 L598.15,206.14 L598.40,193.21 L598.65,210.43 L598.90,190.80 L599.15,212.48 L599.40,193.06 L599.65,210.57 L599.90,193.34 L600.15,210.88 L600.40,193.70 L600.65,211.78 L600.90,197.15 L601.15,216.27 L601.40,195.55 L601.65,214.07 L601.90,199.95 L602.15,219.89 L602.40,198.79 L602.65,221.32 L602.90,200.90 L603.15,220.79 L603.40,201.46 L603.65,219.45 L603.90,200.79 L604.15,223.92 L604.40,201.18 L604.65,227.32 L604.90,200.40 L605.15,230.28 L605.40,206.84 L605.65,229.33 L605.90,201.57 L606.15,224.65 L606.40,202.03 L606.65,225.15 L606.90,200.05 L607.15,223.22 L607.40,202.17 L607.65,221.47 L607.90,200.04 L608.15,219.63 L608.40,199.53 L608.65,216.40 L608.90,198.84 L609.15,214.87 L609.40,199.43 L609.65,214.52 L609.90,198.71 L610.15,214.91 L610.40,196.51 L610.65,211.83 L610.90,196.62 L611.15,212.15 L611.40,195.60 L611.65,211.20 L611.90,195.18 L612.15,210.95 L612.40,192.93 L612.65,211.60 L612.90,191.12 L613.15,211.43 L613.40,190.60 L613.65,212.51 L613.90,190.16 L614.15,213.68 L614.40,188.90 L614.65,211.30 L614.90,192.31 L615.15,213.61 L615.40,188.11 L615.65,212.91 L615.90,190.55 L616.15,215.33 L616.40,191.85 L616.65,215.09 L616.90,195.38 L617.15,213.95 L617.40,194.35 L617.65,212.71 L617.90,191.76 L618.15,217.22 L618.40,194.38 L618.65,214.20 L618.90,195.98 L619.15,211.94 L619.40,195.07 L619.65,213.21 L619.90,189.43 L620.15,212.34 L620.40,194.67 L620.65,209.85 L620.90,194.06 L621.15,209.21 L621.40,194.20 L621.65,208.45 L621.90,192.60 L622.15,210.07 L622.40,186.93 L622.65,207.93 L622.90,188.35 L623.15,209.34 L623.40,187.41 L623.65,206.29 L623.90,191.82 L624.15,208.64 L624.40,189.15 L624.65,208.97 L624.90,192.09 L625.15,210.30 L625.40,196.46 L625.65,213.33 L625.90,197.26 L626.15,216.66 L626.40,202.35 L626.65,219.07 L626.90,203.88 L627.15,222.66 L627.40,201.07 L627.65,224.10 L627.90,199.83 L628.15,228.19 L628.40,206.02 L628.65,230.29 L628.90,207.85 L629.15,235.88 L629.40,203.25 L629.65,236.45 L629.90,208.43 L630.15,233.08 L630.40,198.21 L630.65,233.14 L630.90,205.13 L631.15,230.69 L631.40,205.06 L631.65,223.12 L631.90,196.51 L632.15,221.82 L632.40,193.91 L632.65,214.92 L632.90,192.24 L633.15,211.46 L633.40,189.78 L633.65,208.90 L633.90,186.66 L634.15,205.95 L634.40,184.33 L634.65,205.26 L634.90,181.11 L635.15,203.01 L635.40,182.59 L635.65,204.04 L635.90,179.79 L636.15,201.55 L636.40,179.46 L636.65,203.06 L636.90,177.94 L637.15,196.64 L637.40,176.01 L637.65,197.07 L637.90,177.21 L638.15,194.75 L638.40,178.79 L638.65,195.44 L638.90,176.15 L639.15,193.72 L639.40,172.51 L639.65,191.80 L639.90,175.33 L640.15,190.18 L640.40,172.22 L640.65,188.39 L640.90,173.78 L641.15,190.01 L641.40,172.70 L641.65,185.58 L641.90,171.86 L642.15,185.42 L642.40,168.41 L642.65,191.68 L642.90,167.96 L643.15,185.70 L643.40,168.26 L643.65,184.63 L643.90,166.09 L644.15,179.71 L644.40,168.49 L644.65,182.54 L644.90,166.30 L645.15,179.10 L645.40,167.13 L645.65,179.68 L645.90,165.97 L646.15,177.68 L646.40,158.13 L646.65,175.47 L646.90,161.89 L647.15,174.35 L647.40,160.63 L647.65,176.68 L647.90,161.41 L648.15,176.59 L648.40,159.38 L648.65,177.29 L648.90,160.88 L649.15,174.87 L649.40,159.57 L649.65,182.67 L649.90,160.78 L650.15,180.95 L650.40,162.47 L650.65,183.05 L650.90,163.97 L651.15,183.80 L651.40,165.30 L651.65,184.85 L651.90,164.77 L652.15,186.85 L652.40,163.94 L652.65,185.36 L652.90,166.69 L653.15,186.81 L653.40,167.71 L653.65,188.10 L653.90,169.76 L654.15,183.45 L654.40,168.37 L654.65,186.23 L654.90,170.24 L655.15,184.28 L655.40,171.74 L655.65,187.97 L655.90,170.95 L656.15,185.07 L656.40,168.83 L656.65,187.14 L656.90,169.18 L657.15,186.43 L657.40,169.77 L657.65,185.79 L657.90,169.15 L658.15,190.50 L658.40,173.46 L658.65,189.04 L658.90,169.72 L659.15,188.92 L659.40,169.83 L659.65,187.86 L659.90,170.78 L660.15,184.03 L660.40,165.05 L660.65,184.50 L660.90,170.13 L661.15,184.57 L661.40,168.21 L661.65,182.67 L661.90,167.41 L662.15,180.29 L662.40,164.71 L662.65,180.81 L662.90,164.31 L663.15,178.81 L663.40,161.17 L663.65,176.55 L663.90,160.78 L664.15,184.14 L664.40,161.01 L664.65,173.47 L664.90,158.35 L665.15,175.89 L665.40,159.87 L665.65,177.06 L665.90,163.95 L666.15,181.47 L666.40,163.65 L666.65,184.26 L666.90,165.73 L667.15,184.08 L667.40,168.43 L667.65,192.26 L667.90,170.24 L668.15,193.74 L668.40,176.09 L668.65,198.42 L668.90,176.13 L669.15,200.08 L669.40,176.20 L669.65,202.33 L669.90,175.86 L670.15,202.27 L670.40,182.02 L670.65,208.81 L670.90,177.22 L671.15,203.04 L671.40,178.97 L671.65,204.11 L671.90,179.35 L672.15,199.21 L672.40,171.54 L672.65,198.21 L672.90,178.07 L673.15,195.11 L673.40,178.50 L673.65,193.82 L673.90,178.26 L674.15,194.17 L674.40,180.35 L674.65,193.40 L674.90,181.73 L675.15,196.35 L675.40,183.23 L675.65,197.37 L675.90,184.97 L676.15,199.34 L676.40,178.77 L676.65,193.59 L676.90,178.31 L677.15,190.83 L677.40,172.33 L677.65,185.11 L677.90,168.61 L678.15,182.79 L678.40,166.49 L678.65,181.17 L678.90,161.31 L679.15,173.64 L679.40,163.15 L679.65,172.09 L679.90,160.39 L680.15,171.86 L680.40,160.15 L680.65,173.16 L680.90,162.39 L681.15,173.60 L681.40,162.50 L681.65,171.88 L681.90,159.74 L682.15,171.58 L682.40,162.36 L682.65,171.98 L682.90,160.08 L683.15,171.83 L683.40,161.09 L683.65,172.06 L683.90,159.15 L684.15,169.20 L684.40,159.00 L684.65,169.38 L684.90,158.12 L685.15,170.23 L685.40,158.46 L685.65,169.06 L685.90,153.95 L686.15,165.83 L686.40,154.79 L686.65,165.00 L686.90,151.62 L687.15,162.62 L687.40,149.37 L687.65,159.77 L687.90,147.33 L688.15,155.68 L688.40,140.47 L688.65,150.39 L688.90,136.70 L689.15,146.66 L689.40,132.42 L689.65,138.87 L689.90,127.97 L690.15,139.32 L690.40,127.11 L690.65,136.93 L690.90,126.19 L691.15,137.56 L691.40,123.67 L691.65,136.92 L691.90,125.72 L692.15,137.63 L692.40,128.55 L692.65,139.89 L692.90,132.39 L693.15,141.36 L693.40,134.69 L693.65,143.66 L693.90,135.85 L694.15,144.05 L694.40,136.55 L694.65,144.13 L694.90,135.05 L695.15,141.89 L695.40,136.18 L695.65,141.73 L695.90,132.74 L696.15,140.73 L696.40,128.70 L696.65,136.45 L696.90,123.23 L697.15,130.40 L697.40,118.11 L697.65,126.25 L697.90,114.23 L698.15,122.73 L698.40,111.30 L698.65,120.79 L698.90,110.70 L699.15,119.04 L699.40,108.38 L699.65,115.24 L699.90,107.12 L700.15,114.13 L700.40,104.49 L700.65,111.72 L700.90,103.08 L701.15,113.18 L701.40,102.67 L701.65,110.06 L701.90,99.63 L702.15,108.55 L702.40,100.65 L702.65,109.61 L702.90,101.47 L703.15,110.62 L703.40,102.13 L703.65,111.97 L703.90,103.38 L704.15,111.30 L704.40,104.81 L704.65,112.84 L704.90,104.78 L705.15,111.97 L705.40,104.97 L705.65,112.79 L705.90,105.06 L706.15,113.22 L706.40,105.37 L706.65,112.55 L706.90,105.72 L707.15,112.45 L707.40,106.70 L707.65,111.97 L707.90,105.94 L708.15,112.89 L708.40,106.56 L708.65,113.08 L708.90,107.01 L709.15,114.59 L709.40,108.09 L709.65,113.91 L709.90,107.97 L710.15,114.14 L710.40,108.99 L710.65,116.43 L710.90,109.11 L711.15,117.38 L711.40,111.47 L711.65,116.72 L711.90,111.92 L712.15,119.20 L712.40,110.99 L712.65,120.09 L712.90,113.32 L713.15,119.96 L713.40,112.07 L713.65,121.98 L713.90,113.68 L714.15,124.45 L714.40,116.08 L714.65,125.83 L714.90,116.31 L715.15,125.90 L715.40,117.20 L715.65,126.27 L715.90,119.79 L716.15,127.78 L716.40,122.15 L716.65,130.47 L716.90,122.97 L717.15,133.25 L717.40,123.50 L717.65,132.34 L717.90,122.82 L718.15,134.49 L718.40,126.31 L718.65,137.62 L718.90,125.98 L719.15,139.47 L719.40,128.89 L719.65,139.75 L719.90,129.94 L720.15,142.80 L720.40,133.49 L720.65,144.18 L720.90,135.48 L721.15,144.72 L721.40,136.90 L721.65,148.77 L721.90,137.54 L722.15,147.42 L722.40,140.18 L722.65,151.18 L722.90,142.69 L723.15,150.01 L723.40,144.15 L723.65,152.87 L723.90,144.55 L724.15,154.25 L724.40,148.15 L724.65,154.29 L724.90,147.14 L725.15,156.98 L725.40,148.61 L725.65,156.11 L725.90,150.35 L726.15,154.80 L726.40,149.99 L726.65,155.96 L726.90,150.38 L727.15,156.42 L727.40,149.32 L727.65,156.20 L727.90,151.59 L728.15,156.89 L728.40,152.46 L728.65,158.26 L728.90,153.29 L729.15,158.43 L729.40,151.70 L729.65,158.06 L729.90,152.66 L730.15,159.19 L730.40,153.09 L730.65,160.96 L730.90,153.81 L731.15,160.32 L731.40,153.37 L731.65,159.73 L731.90,149.38 L732.15,156.75 L732.40,146.51 L732.65,155.42 L732.90,141.77 L733.15,151.46 L733.40,141.70 L733.65,149.02 L733.90,139.92 L734.15,145.18 L734.40,139.88 L734.65,145.04 L734.90,140.67 L735.15,145.28 L735.40,143.24 L735.65,146.93 L735.90,142.67 L736.15,148.12 L736.40,144.56 L736.65,149.72 L736.90,144.62 L737.15,150.27 L737.40,145.17 L737.65,149.83 L737.90,146.43 L738.15,152.11 L738.40,146.71 L738.65,152.86 L738.90,147.91 L739.15,152.36 L739.40,149.25 L739.65,153.75 L739.90,147.91 L740.15,154.26 L740.40,149.32 L740.65,155.29 L740.90,148.72 L741.15,155.18 L741.40,149.09 L741.65,154.18 L741.90,148.98 L742.15,155.66 L742.40,149.85 L742.65,155.25 L742.90,149.65 L743.15,155.93 L743.40,151.14 L743.65,155.12 L743.90,149.25 L744.15,157.28 L744.40,148.38 L744.65,156.44 L744.90,149.89 L745.15,155.79 L745.40,149.46 L745.65,154.58 L745.90,148.92 L746.15,156.17 L746.40,148.52 L746.65,153.16 L746.90,147.41 L747.15,152.97 L747.40,146.15 L747.65,151.71 L747.90,144.95 L748.15,152.29 L748.40,144.52 L748.65,151.00 L748.90,144.41 L749.15,151.19 L749.40,141.97 L749.65,149.73 L749.90,142.67 L750.15,149.16 L750.40,141.72 L750.65,148.99 L750.90,141.43 L751.15,148.30 L751.40,139.91 L751.65,148.27 L751.90,137.26 L752.15,147.09 L752.40,139.39 L752.65,144.53 L752.90,137.78 L753.15,145.61 L753.40,135.66 L753.65,145.31 L753.90,133.94 L754.15,142.79 L754.40,134.63 L754.65,140.89 L754.90,133.33 L755.15,139.56 L755.40,132.09 L755.65,138.37 L755.90,129.00 L756.15,136.32 L756.40,128.57 L756.65,134.89 L756.90,125.82 L757.15,135.38 L757.40,127.51 L757.65,134.43 L757.90,124.33 L758.15,133.24 L758.40,126.02 L758.65,131.93 L758.90,124.24 L759.15,132.66 L759.40,124.53 L759.65,131.00 L759.90,123.59 L760.15,130.94 L760.40,122.30 L760.65,128.60 L760.90,121.65 L761.15,129.10 L761.40,121.90 L761.65,128.96 L761.90,121.80 L762.15,129.83 L762.40,122.16 L762.65,128.01 L762.90,120.62 L763.15,127.59 L763.40,120.96 L763.65,127.51 L763.90,121.16 L764.15,126.27 L764.40,119.80 L764.65,126.21 L764.90,121.15 L765.15,126.37 L765.40,118.19 L765.65,124.70 L765.90,119.97 L766.15,124.43 L766.40,119.38 L766.65,124.22 L766.90,118.20 L767.15,125.84 L767.40,118.13 L767.65,125.82 L767.90,116.74 L768.15,123.88 L768.40,116.71 L768.65,123.49 L768.90,117.21 L769.15,122.33 L769.40,115.41 L769.65,122.34 L769.90,114.99 L770.15,121.96 L770.40,115.39 L770.65,120.44 L770.90,112.98 L771.15,120.45 L771.40,112.92 L771.65,119.42 L771.90,113.16 L772.15,119.48 L772.40,112.77 L772.65,118.82 L772.90,111.69 L773.15,117.07 L773.40,110.16 L773.65,116.49 L773.90,109.70 L774.15,115.88 L774.40,108.69 L774.65,115.88 L774.90,107.35 L775.15,116.05 L775.40,109.14 L775.65,115.34 L775.90,106.55 L776.15,115.19 L776.40,108.34 L776.65,114.88 L776.90,107.14 L777.15,114.23 L777.40,107.71 L777.65,113.95 L777.90,106.08 L778.15,113.31 L778.40,105.74 L778.65,112.67 L778.90,104.97 L779.15,112.00 L779.40,105.76 L779.65,111.99 L779.90,103.77 L780.15,111.09 L780.40,104.22 L780.65,110.36 L780.90,103.70 L781.15,108.61 L781.40,103.17 L781.65,110.26 L781.90,102.04 L782.15,107.82 L782.40,102.65 L782.65,107.95 L782.90,101.43 L783.15,106.64 L783.40,101.59 L783.65,107.98 L783.90,100.37 L784.15,105.91 L784.40,99.39 L784.65,106.03 L784.90,100.09 L785.15,106.12 L785.40,98.57 L785.65,103.75 L785.90,96.74 L786.15,103.75 L786.40,96.83 L786.65,102.08 L786.90,94.91 L787.15,101.31 L787.40,94.12 L787.65,103.20 L787.90,92.76 L788.15,101.86 L788.40,92.62 L788.65,99.40 L788.90,92.04 L789.15,99.76 L789.40,91.53 L789.65,98.44 L789.90,91.63 L790.15,96.76 L790.40,89.79 L790.65,97.41 L790.90,89.10 L791.15,96.75 L791.40,88.51 L791.65,96.10 L791.90,88.49 L792.15,95.59 L792.40,86.68 L792.65,94.11 L792.90,87.03 L793.15,94.18 L793.40,86.52 L793.65,92.98 L793.90,87.19 L794.15,91.97 L794.40,86.64 L794.65,91.78 L794.90,85.70 L795.15,91.45 L795.40,85.40 L795.65,91.29 L795.90,83.91 L796.15,90.36 L796.40,82.58 L796.65,89.54 L796.90,81.19 L797.15,88.21 L797.40,82.22 L797.65,87.50 L797.90,82.40 L798.15,87.25 L798.40,81.04 L798.65,87.17 L798.90,79.71 L799.15,85.54 L799.40,79.38 L799.65,85.62 L799.90,77.72 L800.15,83.77 L800.40,78.71 L800.65,82.56 L800.90,78.95 L801.15,82.40 L801.40,77.78 L801.65,81.78 L801.90,77.57 L802.15,81.45 L802.40,76.41 L802.65,81.64 L802.90,75.66 L803.15,79.97 L803.40,75.55 L803.65,78.21 L803.90,75.08 L804.15,78.53 L804.40,73.48 L804.65,78.18 L804.90,71.34 L805.15,76.88 L805.40,72.00 L805.65,77.93 L805.90,72.02 L806.15,75.98 L806.40,71.33 L806.65,74.69 L806.90,71.77 L807.15,74.33 L807.40,70.54 L807.65,74.99 L807.90,70.43 L808.15,73.95 L808.40,69.80 L808.65,72.70 L808.90,69.63 L809.15,72.41 L809.40,68.22 L809.65,72.55 L809.90,68.04 L810.15,71.12 L810.40,67.49 L810.65,70.81 L810.90,67.48 L811.15,71.54 L811.40,66.71 L811.65,70.21 L811.90,66.80 L812.15,70.00 L812.40,65.34 L812.65,69.48 L812.90,66.54 L813.15,69.45 L813.40,66.05 L813.65,69.20 L813.90,65.95 L814.15,69.02 L814.40,65.22 L814.65,69.27 L814.90,64.98 L815.15,67.99 L815.40,64.50 L815.65,67.61 L815.90,63.48 L816.15,67.63 L816.40,63.66 L816.65,67.82 L816.90,63.84 L817.15,67.02 L817.40,64.02 L817.65,67.34 L817.90,63.46 L818.15,66.74 L818.40,63.33 L818.65,66.84 L818.90,62.75 L819.15,67.59 L819.40,62.36 L819.65,66.44 L819.90,62.16 L820.15,65.25 L820.40,61.87 L820.65,65.49 L820.90,61.50 L821.15,65.28 L821.40,60.82 L821.65,63.99 L821.90,60.90 L822.15,64.40 L822.40,60.14 L822.65,63.96 L822.90,60.18 L823.15,62.86 L823.40,59.91 L823.65,62.92 L823.90,59.70 L824.15,62.71 L824.40,59.04 L824.65,62.70 L824.90,57.73 L825.15,61.76 L825.40,57.87 L825.65,61.58 L825.90,57.27 L826.15,62.31 L826.40,57.66 L826.65,61.14 L826.90,57.29 L827.15,61.03 L827.40,57.55 L827.65,60.62 L827.90,56.95 L828.15,61.53 L828.40,56.03 L828.65,60.67 L828.90,56.15 L829.15,60.18 L829.40,55.31 L829.65,60.01 L829.90,56.75 L830.15,60.04 L830.40,57.11 L830.65,59.68 L830.90,56.43 L831.15,59.25 L831.40,56.74 L831.65,59.17 L831.90,55.70 L832.15,59.05 L832.40,55.55 L832.65,60.12 L832.90,56.21 L833.15,58.76 L833.40,55.68 L833.65,59.56 L833.90,55.95 L834.15,58.88 L834.40,55.76 L834.65,58.60 L834.90,54.74 L835.15,58.34 L835.40,55.34 L835.65,58.92 L835.90,54.94 L836.15,59.05 L836.40,54.40 L836.65,58.17 L836.90,53.18 L837.15,57.58 L837.40,53.46 L837.65,57.27 L837.90,53.55 L838.15,57.99 L838.40,52.29 L838.65,57.58 L838.90,53.47 L839.15,57.37 L839.40,53.48 L839.65,56.18 L839.90,53.01 L840.15,56.47 L840.40,52.91 L840.65,56.68 L840.90,52.91 L841.15,56.37 L841.40,53.15 L841.65,56.24 L841.90,51.88 L842.15,55.38 L842.40,51.33 L842.65,56.72 L842.90,51.88 L843.15,55.59 L843.40,50.44 L843.65,54.51 L843.90,51.84 L844.15,55.02 L844.40,51.55 L844.65,54.21 L844.90,51.29 L845.15,55.42 L845.40,50.95 L845.65,54.30 L845.90,49.07 L846.15,54.25 L846.40,50.72 L846.65,54.22 L846.90,50.40 L847.15,53.85 L847.40,50.08 L847.65,52.90 L847.90,50.16 L848.15,53.18 L848.40,49.65 L848.65,52.41 L848.90,49.54 L849.15,52.67 L849.40,48.46 L849.65,52.69 L849.90,49.20 L850.15,52.84 L850.40,49.32 L850.65,51.95 L850.90,48.64 L851.15,52.82 L851.40,48.85 L851.65,53.25 L851.90,48.66 L852.15,51.52 L852.40,47.39 L852.65,51.24 L852.90,47.93 L853.15,50.98 L853.40,47.83 L853.65,50.84 L853.90,47.90 L854.15,50.42 L854.40,47.68 L854.65,50.83 L854.90,46.46 L855.15,50.69 L855.40,46.68 L855.65,50.73 L855.90,47.51 L856.15,51.41 L856.40,47.32 L856.65,50.17 L856.90,46.87 L857.15,50.29 L857.40,47.36 L857.65,50.01 L857.90,46.88 L858.15,49.57 L858.40,46.42 L858.65,49.61 L858.90,46.61 L859.15,49.45 L859.40,46.21 L859.65,49.16 L859.90,46.21 L860.15,49.59 L860.40,46.77 L860.65,49.29 L860.90,45.77 L861.15,49.04 L861.40,45.65 L861.65,49.55 L861.90,45.07 L862.15,49.21 L862.40,45.45 L862.65,48.24 L862.90,45.00 L863.15,48.77 L863.40,45.67 L863.65,48.18 L863.90,45.79 L864.15,47.79 L864.40,43.94 L864.65,48.20 L864.90,45.36 L865.15,48.21 L865.40,45.09 L865.65,48.00 L865.90,43.40 L866.15,47.28 L866.40,44.44 L866.65,47.55 L866.90,44.05 L867.15,48.36 L867.40,43.83 L867.65,48.59 L867.90,44.31 L868.15,46.81 L868.40,43.85 L868.65,46.64 L868.90,43.99 L869.15,47.80 L869.40,43.36 L869.65,46.30 L869.90,43.31 L870.15,46.61 L870.40,42.98 L870.65,45.91 L870.90,43.43 L871.15,45.47 L871.40,42.29 L871.65,45.67 L871.90,43.08 L872.15,45.35 L872.40,43.45 L872.65,45.77 L872.90,43.72 L873.15,45.79 L873.40,43.44 L873.65,45.47 L873.90,43.77 L874.15,45.77 L874.40,43.17 L874.65,45.64 L874.90,43.31 L875.15,46.70 L875.40,43.27 L875.65,45.69 L875.90,43.49 L876.15,47.00 L876.40,43.71 L876.65,45.38 L876.90,43.45 L877.15,45.65 L877.40,43.85 L877.65,45.73 L877.90,43.75 L878.15,46.41 L878.40,43.55 L878.65,46.10 L878.90,43.63 L879.15,45.54 L879.40,42.66 L879.65,46.60 L879.90,43.26 L880.15,45.21 L880.40,43.30 L880.65,45.99 L880.90,43.30 L881.15,45.56 L881.40,41.94 L881.65,46.32 L881.90,42.92 L882.15,46.75 L882.40,42.09 L882.65,45.57 L882.90,43.01 L883.15,46.12 L883.40,42.57 L883.65,45.36 L883.90,43.12 L884.15,45.89 L884.40,42.34 L884.65,45.31 L884.90,43.01 L885.15,45.02 L885.40,42.38 L885.65,44.98 L885.90,41.47 L886.15,45.08 L886.40,42.58 L886.65,44.95 L886.90,42.57 L887.15,45.61 L887.40,43.01 L887.65,45.87 L887.90,43.71 L888.15,46.20 L888.40,42.77 L888.65,46.65 L888.90,43.66 L889.15,46.22 L889.40,43.38 L889.65,46.72 L889.90,44.34 L890.15,46.88 L890.40,44.06 L890.65,46.29 L890.90,44.29 L891.15,47.23 L891.40,44.84 L891.65,47.18 L891.90,44.13 L892.15,47.34 L892.40,44.23 L892.65,46.79 L892.90,43.89 L893.15,46.49 L893.40,44.36 L893.65,46.73 L893.90,44.15 L894.15,46.32 L894.40,43.22 L894.65,46.46 L894.90,43.38 L895.15,45.86 L895.40,42.85 L895.65,45.94 L895.90,42.95 L896.15,45.97 L896.40,42.77 L896.65,45.14 L896.90,42.63 L897.15,45.25 L897.40,41.89 L897.65,45.10 L897.90,41.94 L898.15,44.53 L898.40,41.96 L898.65,45.32 L898.90,40.56 L899.15,44.52 L899.40,41.63 L899.65,44.15 L899.90,41.17 L900.15,44.44 L900.40,40.75 L900.65,43.73 L900.90,40.76 L901.15,43.90 L901.40,40.85 L901.65,43.54 L901.90,40.77 L902.15,42.88 L902.40,40.52 L902.65,44.11 L902.90,40.13 L903.15,42.24 L903.40,38.20 L903.65,42.29 L903.90,39.66 L904.15,42.08 L904.40,39.41 L904.65,41.55 L904.90,39.15 L905.15,41.26 L905.40,39.07 L905.65,40.93 L905.90,38.40 L906.15,42.30 L906.40,39.30 L906.65,41.71 L906.90,40.15 L907.15,41.92 L907.40,38.90 L907.65,42.39 L907.90,39.99 L908.15,42.71 L908.40,39.18 L908.65,43.53 L908.90,41.46 L909.15,43.28 L909.40,41.32 L909.65,44.61 L909.90,40.38 L910.15,43.27 L910.40,40.63 L910.65,43.56 L910.90,41.94 L911.15,43.79 L911.40,41.62 L911.65,43.71 L911.90,41.76 L912.15,44.26 L912.40,41.11 L912.65,43.62 L912.90,42.01 L913.15,44.83 L913.40,41.37 L913.65,43.79 L913.90,42.25 L914.15,45.59 L914.40,42.28 L914.65,44.46 L914.90,42.12 L915.15,44.32 L915.40,42.26 L915.65,44.18 L915.90,42.36 L916.15,43.88 L916.40,42.43 L916.65,43.95 L916.90,42.35 L917.15,43.75 L917.40,42.11 L917.65,43.94 L917.90,42.10 L918.15,44.17 L918.40,40.97 L918.65,44.81 L918.90,42.20 L919.15,43.96 L919.40,41.60 L919.65,44.73 L919.90,41.55 L920.15,45.22 L920.40,41.65 L920.65,45.45 L920.90,41.17 L921.15,46.34 L921.40,39.96 L921.65,46.58 L921.90,40.89 L922.15,48.37 L922.40,38.85 L922.65,48.49 L922.90,38.42 L923.15,47.03 L923.40,38.31 L923.65,47.97 L923.90,38.64 L924.15,47.65 L924.40,39.75 L924.65,46.80 L924.90,39.55 L925.15,47.67 L925.40,38.18 L925.65,49.53 L925.90,39.03 L926.15,49.28 L926.40,40.00 L926.65,47.41 L926.90,38.58 L927.15,45.86 L927.40,38.00 L927.65,47.57 L927.90,38.02 L928.15,45.46 L928.40,39.84 L928.65,47.36 L928.90,38.20 L929.15,47.25 L929.40,38.81 L929.65,46.35 L929.90,40.38 L930.15,46.84 L930.40,38.62 L930.65,45.62 L930.90,39.40 L931.15,46.38 L931.40,39.46 L931.65,45.99 L931.90,38.64 L932.15,44.26 L932.40,39.69 L932.65,45.87 L932.90,37.01 L933.15,45.39 L933.40,38.62 L933.65,45.05 L933.90,39.21 L934.15,45.36 L934.40,37.79 L934.65,43.54 L934.90,38.52 L935.15,44.66 L935.40,37.73 L935.65,45.23 L935.90,36.81 L936.15,44.73 L936.40,36.32 L936.65,45.87 L936.90,36.56 L937.15,43.86 L937.40,38.28 L937.65,44.48 L937.90,37.27 L938.15,43.74 L938.40,36.39 L938.65,44.57 L938.90,38.23 L939.15,43.57 L939.40,37.62 L939.65,44.07 L939.90,38.32 L940.15,45.94 L940.40,38.38 L940.65,45.09 L940.90,38.64 L941.15,43.78 L941.40,38.14 L941.65,44.43 L941.90,38.92 L942.15,44.80 L942.40,39.19 L942.65,45.29 L942.90,40.43 L943.15,45.90 L943.40,37.37 L943.65,44.49 L943.90,39.18 L944.15,46.44 L944.40,39.28 L944.65,46.40 L944.90,39.34 L945.15,45.64 L945.40,40.77 L945.65,45.97 L945.90,38.73 L946.15,47.17 L946.40,39.10 L946.65,46.80 L946.90,37.27 L947.15,46.09 L947.40,39.40 L947.65,47.90 L947.90,40.46 L948.15,47.10 L948.40,39.40 L948.65,47.13 L948.90,40.86 L949.15,46.12 L949.40,39.15 L949.65,46.79 L949.90,40.92 L950.15,46.88 L950.40,39.51 L950.65,45.22 L950.90,39.90 L951.15,46.42 L951.40,39.89 L951.65,44.77 L951.90,39.20 L952.15,45.93 L952.40,39.40 L952.65,45.82" fill="none" stroke="#0072bd" stroke-width="1.0" stroke-linejoin="round" clip-path="url(#c1)"/>
<path d="M265.00,154.60 L265.00,143.90 M267.50,156.40 L267.50,146.50 M271.70,159.33 L271.70,138.00 M274.20,160.56 L274.20,145.60 M289.30,170.37 L289.30,156.40 M291.80,171.35 L291.80,153.90 M294.30,170.50 L294.30,153.10 M296.80,169.15 L296.80,155.60 M472.30,173.81 L472.30,154.60 M523.10,181.25 L523.10,167.60 M431.60,143.76 L431.60,156.50 M495.50,235.00 L495.50,255.20 M504.20,226.58 L504.20,248.00 M553.60,229.88 L553.60,262.50 M562.30,241.14 L562.30,263.90 M581.20,247.63 L581.20,262.50 M605.90,215.89 L605.90,232.00 M629.10,221.99 L629.10,242.10 M669.80,190.01 L669.80,207.30" stroke="#0072bd" stroke-width="1.5" fill="none"/>
<clipPath id="c2"><rect x="83.2" y="428.2" width="869.8" height="285.6"/></clipPath>
<path d="M84.20,509.11 L84.61,509.75 L85.03,510.19 L85.44,510.21 L85.85,510.56 L86.27,511.24 L86.68,511.28 L87.09,511.45 L87.51,511.67 L87.92,512.42 L88.33,512.64 L88.75,512.69 L89.16,513.14 L89.57,513.21 L89.98,513.98 L90.38,514.40 L90.75,514.63 L91.12,514.97 L91.48,514.92 L91.84,515.83 L92.21,515.97 L92.57,516.54 L92.93,516.80 L93.29,517.26 L93.65,517.57 L94.01,517.87 L94.37,518.14 L94.73,518.28 L95.09,518.62 L95.46,519.45 L95.82,519.72 L96.18,519.70 L96.54,519.96 L96.91,520.85 L97.28,520.60 L97.65,521.37 L98.03,521.77 L98.41,521.91 L98.78,522.60 L99.16,522.75 L99.54,523.33 L99.91,523.46 L100.29,523.71 L100.66,523.72 L101.04,524.62 L101.42,524.43 L101.79,524.88 L102.17,525.48 L102.55,525.85 L102.92,526.36 L103.30,526.71 L103.68,527.04 L104.05,527.29 L104.43,527.34 L104.81,527.92 L105.18,527.86 L105.56,528.32 L105.94,529.14 L106.31,529.23 L106.69,529.77 L107.06,529.58 L107.44,530.22 L107.82,530.27 L108.19,530.98 L108.57,531.48 L108.95,531.47 L109.33,531.52 L109.71,532.06 L110.11,532.21 L110.51,532.77 L110.92,533.31 L111.32,533.74 L111.73,533.54 L112.13,533.75 L112.54,533.98 L112.94,534.47 L113.35,534.73 L113.75,535.00 L114.16,535.77 L114.56,535.65 L114.97,535.86 L115.37,536.16 L115.78,536.86 L116.18,536.95 L116.59,537.22 L116.99,537.75 L117.39,538.00 L117.79,538.20 L118.18,538.63 L118.57,538.74 L118.96,539.15 L119.35,539.65 L119.74,539.52 L120.13,540.11 L120.52,540.42 L120.91,540.70 L121.30,541.15 L121.69,541.61 L122.08,541.97 L122.47,542.31 L122.86,542.53 L123.25,542.44 L123.64,542.92 L124.03,543.54 L124.42,543.48 L124.81,544.14 L125.18,544.09 L125.55,545.02 L125.90,544.92 L126.25,545.49 L126.60,545.64 L126.95,546.06 L127.30,546.64 L127.65,547.06 L128.00,547.67 L128.35,547.59 L128.70,548.44 L129.05,548.37 L129.40,548.85 L129.75,549.63 L130.10,549.69 L130.45,549.89 L130.80,550.40 L131.15,551.04 L131.50,551.45 L131.85,551.30 L132.20,551.96 L132.55,552.24 L132.89,552.41 L133.24,553.03 L133.57,553.30 L133.91,553.99 L134.25,553.86 L134.58,554.54 L134.92,554.83 L135.26,555.26 L135.59,555.64 L135.93,556.40 L136.27,556.57 L136.61,556.73 L136.94,557.07 L137.28,557.51 L137.62,558.24 L137.95,558.37 L138.29,559.00 L138.63,558.85 L138.97,559.44 L139.32,559.94 L139.68,560.36 L140.05,560.20 L140.43,560.76 L140.81,561.43 L141.18,561.59 L141.56,561.60 L141.94,562.13 L142.31,562.53 L142.69,562.52 L143.06,563.16 L143.44,563.53 L143.82,564.22 L144.19,564.25 L144.57,564.60 L144.95,564.62 L145.32,564.94 L145.68,565.59 L146.02,566.08 L146.35,566.17 L146.67,566.81 L147.00,566.86 L147.32,567.37 L147.65,567.93 L147.97,568.16 L148.30,568.64 L148.62,569.21 L148.95,569.22 L149.27,569.94 L149.60,570.54 L149.92,570.83 L150.25,570.90 L150.57,571.47 L150.90,571.49 L151.22,572.30 L151.55,572.70 L151.87,572.72 L152.20,573.22 L152.52,573.76 L152.84,574.18 L153.16,574.54 L153.48,575.01 L153.80,575.47 L154.12,575.59 L154.44,575.66 L154.76,576.59 L155.08,576.49 L155.40,577.17 L155.72,577.68 L156.04,578.14 L156.36,578.33 L156.68,578.78 L157.00,579.40 L157.32,579.65 L157.64,579.69 L157.96,580.53 L158.29,580.74 L158.63,580.86 L158.98,581.22 L159.35,581.71 L159.72,582.13 L160.10,582.74 L160.47,582.84 L160.85,583.40 L161.22,583.51 L161.60,583.98 L161.97,584.25 L162.35,584.67 L162.75,585.24 L163.19,585.22 L163.70,585.64 L164.25,586.02 L164.79,585.71 L165.28,586.24 L165.68,586.81 L166.02,587.10 L166.34,587.59 L166.65,587.60 L166.97,588.24 L167.28,588.41 L167.59,588.65 L167.90,589.53 L168.22,589.58 L168.53,590.28 L168.84,590.69 L169.16,591.11 L169.47,591.14 L169.78,591.89 L170.10,591.89 L170.41,592.58 L170.72,592.51 L171.03,593.44 L171.35,593.33 L171.66,594.18 L171.97,594.51 L172.29,594.50 L172.60,595.26 L172.91,595.74 L173.23,596.20 L173.54,596.71 L173.85,596.58 L174.17,597.10 L174.48,597.45 L174.79,598.05 L175.10,598.11 L175.42,598.76 L175.73,598.93 L176.04,599.30 L176.36,600.07 L176.67,600.32 L176.98,600.87 L177.30,601.18 L177.61,601.71 L177.92,601.84 L178.23,601.90 L178.55,602.98 L178.86,602.84 L179.17,603.64 L179.49,603.60 L179.80,604.21 L180.11,604.44 L180.43,605.09 L180.74,605.08 L181.05,605.47 L181.37,606.13 L181.68,606.79 L181.99,606.92 L182.30,607.06 L182.62,608.07 L182.93,607.84 L183.24,608.37 L183.56,608.94 L183.87,609.13 L184.18,609.82 L184.50,610.01 L184.81,610.67 L185.12,610.56 L185.43,611.47 L185.75,611.92 L186.06,611.85 L186.37,612.23 L186.69,613.08 L187.01,613.14 L187.33,613.52 L187.66,614.05 L187.99,614.42 L188.33,615.00 L188.66,615.29 L188.99,615.71 L189.32,615.91 L189.65,616.37 L189.98,617.00 L190.32,617.40 L190.65,617.62 L190.98,618.00 L191.31,618.19 L191.64,618.71 L191.97,618.91 L192.31,619.51 L192.64,619.60 L192.97,620.14 L193.32,620.55 L193.69,621.08 L194.07,621.63 L194.45,621.62 L194.83,622.40 L195.22,622.89 L195.60,622.87 L195.60,622.85 L195.65,622.32 L195.70,622.19 L195.74,621.53 L195.79,620.78 L195.84,620.33 L195.89,620.00 L195.94,619.29 L195.99,619.31 L196.03,618.39 L196.08,618.32 L196.13,617.27 L196.18,616.99 L196.23,616.90 L196.27,615.86 L196.32,615.28 L196.37,615.34 L196.42,614.81 L196.47,614.10 L196.51,613.34 L196.56,612.96 L196.61,612.56 L196.66,612.42 L196.71,611.40 L196.76,611.21 L196.80,610.74 L196.85,610.36 L196.90,609.72 L196.95,608.99 L196.99,608.52 L197.04,608.02 L197.09,607.58 L197.14,607.02 L197.18,606.20 L197.23,606.14 L197.28,605.34 L197.33,605.00 L197.37,604.26 L197.42,603.83 L197.47,603.69 L197.52,602.49 L197.56,602.40 L197.61,601.57 L197.66,601.58 L197.71,600.97 L197.75,600.45 L197.80,599.94 L197.80,599.59 L198.08,599.20 L198.36,599.00 L198.64,598.18 L198.96,598.05 L199.35,597.56 L199.84,597.04 L200.39,596.88 L200.93,596.81 L201.43,596.72 L201.89,596.95 L202.33,597.25 L202.71,597.62 L203.04,598.23 L203.32,598.37 L203.58,598.86 L203.83,599.41 L204.06,599.92 L204.27,600.50 L204.46,600.80 L204.64,601.17 L204.82,601.72 L205.00,601.78 L205.18,602.68 L205.36,602.78 L205.54,603.71 L205.72,604.17 L205.90,604.47 L206.08,605.15 L206.26,605.00 L206.44,605.49 L206.62,606.25 L206.80,606.51 L206.98,606.85 L207.16,607.98 L207.34,608.07 L207.52,608.83 L207.70,608.91 L207.88,609.62 L208.06,609.69 L208.24,610.55 L208.42,611.08 L208.61,611.48 L208.80,611.85 L209.00,612.50 L209.20,612.61 L209.40,613.39 L209.60,613.58 L209.80,613.90 L210.00,614.58 L210.20,615.31 L210.40,615.37 L210.60,616.26 L210.80,616.43 L211.00,616.99 L211.20,617.17 L211.40,617.70 L211.60,618.52 L211.80,619.16 L212.00,619.17 L212.20,619.93 L212.40,620.53 L212.60,620.98 L212.80,621.52 L213.00,621.39 L213.20,622.25 L213.40,622.45 L213.60,622.75 L213.80,623.53 L214.01,624.32 L214.22,624.35 L214.44,624.75 L214.65,625.73 L214.87,625.96 L215.09,626.06 L215.31,626.43 L215.53,626.93 L215.75,627.39 L215.96,628.42 L216.18,628.75 L216.40,628.84 L216.62,629.48 L216.84,629.95 L217.05,630.70 L217.27,631.24 L217.49,631.03 L217.71,631.50 L217.93,632.37 L218.15,632.44 L218.36,633.15 L218.58,633.77 L218.80,634.14 L219.02,634.37 L219.24,634.91 L219.45,635.54 L219.67,635.73 L219.89,636.74 L220.11,636.72 L220.33,637.60 L220.55,637.61 L220.76,638.28 L220.98,638.96 L221.20,639.31 L221.42,639.39 L221.64,639.93 L221.87,640.47 L222.09,641.00 L222.31,641.78 L222.53,641.79 L222.75,642.25 L222.97,642.83 L223.20,643.06 L223.42,643.93 L223.64,643.80 L223.86,644.78 L224.08,645.34 L224.31,645.38 L224.53,646.14 L224.75,646.56 L224.97,647.04 L225.19,647.42 L225.42,647.78 L225.64,648.05 L225.86,648.60 L226.08,648.83 L226.30,649.64 L226.53,650.01 L226.75,650.15 L226.97,650.63 L227.19,651.23 L227.41,651.59 L227.63,652.04 L227.86,652.89 L228.08,653.03 L228.31,653.30 L228.54,654.34 L228.78,654.82 L229.02,655.18 L229.26,655.37 L229.50,656.18 L229.74,656.59 L229.98,656.85 L230.22,657.34 L230.46,657.81 L230.70,658.13 L230.94,658.82 L231.18,659.25 L231.42,659.63 L231.66,660.05 L231.90,660.33 L232.14,660.69 L232.38,661.58 L232.62,661.76 L232.86,662.46 L233.10,662.41 L233.34,662.82 L233.58,663.67 L233.82,664.07 L234.06,664.34 L234.30,664.86 L234.54,665.60 L234.78,665.88 L235.02,666.23 L235.26,666.49 L235.51,666.86 L235.77,667.45 L236.03,667.83 L236.30,668.54 L236.57,669.18 L236.83,669.52 L237.10,669.55 L237.37,669.99 L237.63,670.64 L237.90,671.24 L238.17,671.30 L238.43,671.71 L238.70,672.29 L238.97,672.92 L239.23,673.14 L239.50,673.26 L239.77,674.16 L240.03,674.74 L240.30,675.03 L240.57,675.01 L240.83,675.61 L241.10,676.22 L241.37,676.63 L241.63,676.77 L241.90,677.35 L242.17,677.87 L242.43,678.37 L242.69,679.15 L242.94,679.40 L243.19,679.72 L243.44,679.81 L243.68,680.27 L243.93,681.24 L244.17,681.55 L244.42,682.07 L244.66,682.14 L244.91,683.18 L245.15,683.31 L245.40,683.80 L245.65,684.33 L245.89,684.74 L246.14,685.30 L246.38,685.35 L246.63,685.69 L246.87,686.40 L247.12,687.10 L247.36,687.53 L247.61,687.72 L247.85,688.43 L248.09,688.90 L248.31,689.38 L248.53,689.97 L248.74,690.09 L248.96,690.75 L249.17,691.35 L249.39,691.38 L249.60,692.34 L249.81,692.36 L250.03,693.06 L250.24,693.16 L250.46,693.67 L250.67,694.07 L250.89,694.93 L251.10,694.97 L251.31,695.76 L251.53,696.41 L251.74,696.55 L251.96,696.97 L252.17,697.98 L252.39,697.92 L252.60,698.66 L252.60,442.17 L253.06,442.94 L253.44,443.21 L253.71,443.58 L253.89,443.90 L254.05,444.80 L254.20,444.92 L254.35,445.76 L254.50,446.16 L254.65,446.55 L254.80,447.35 L254.95,447.59 L255.10,448.04 L255.25,448.61 L255.40,448.72 L255.55,449.39 L255.70,449.58 L255.85,450.16 L256.00,450.57 L256.15,451.44 L256.30,451.75 L256.45,452.13 L256.60,452.78 L256.75,453.65 L256.90,453.51 L257.05,454.04 L257.21,455.07 L257.37,455.09 L257.53,455.90 L257.69,455.98 L257.85,456.44 L258.02,457.34 L258.18,457.91 L258.35,458.03 L258.51,458.70 L258.67,458.98 L258.84,459.94 L259.00,459.94 L259.16,460.73 L259.33,461.49 L259.49,461.47 L259.65,462.32 L259.82,462.65 L259.98,463.40 L260.15,463.89 L260.31,464.13 L260.47,464.60 L260.64,465.30 L260.80,465.75 L260.96,465.97 L261.13,466.89 L261.29,467.08 L261.45,467.39 L261.62,467.98 L261.78,468.48 L261.95,469.04 L262.11,469.42 L262.27,469.99 L262.44,470.84 L262.60,471.35 L262.76,471.32 L262.93,471.85 L263.09,472.39 L263.25,472.78 L263.42,473.26 L263.58,473.94 L263.75,474.38 L263.91,474.63 L264.07,475.43 L264.24,475.89 L264.40,476.72 L264.56,477.14 L264.73,477.48 L264.89,477.89 L265.05,478.09 L265.22,478.96 L265.38,479.65 L265.55,480.16 L265.71,480.63 L265.87,480.98 L266.04,481.20 L266.20,481.58 L266.36,482.10 L266.53,482.71 L266.69,483.00 L266.85,483.63 L267.02,484.59 L267.18,484.92 L267.35,485.38 L267.51,485.49 L267.67,486.22 L267.84,486.70 L268.00,487.50 L268.16,487.81 L268.33,488.04 L268.49,488.50 L268.65,488.89 L268.82,489.65 L268.98,490.23 L269.15,490.57 L269.31,491.43 L269.47,491.79 L269.64,492.14 L269.80,492.53 L269.96,493.20 L270.13,493.72 L270.29,494.24 L270.45,494.43 L270.62,494.99 L270.78,495.36 L270.95,495.78 L271.11,496.39 L271.27,496.85 L271.43,497.36 L271.59,497.98 L271.74,498.40 L271.88,499.13 L272.02,499.28 L272.15,500.09 L272.29,500.70 L272.43,500.91 L272.57,501.61 L272.71,501.58 L272.85,502.19 L272.98,502.56 L273.12,503.33 L273.26,503.73 L273.40,504.29 L273.54,504.60 L273.68,504.94 L273.82,505.94 L273.95,506.55 L274.09,506.51 L274.23,507.37 L274.37,507.59 L274.51,508.35 L274.65,508.73 L274.78,509.33 L274.92,509.97 L275.06,509.96 L275.20,510.87 L275.34,510.88 L275.48,511.78 L275.62,511.81 L275.75,512.33 L275.89,512.97 L276.03,513.30 L276.17,514.21 L276.31,514.15 L276.45,514.85 L276.58,515.50 L276.72,516.14 L276.86,516.75 L277.00,516.93 L277.14,517.17 L277.28,517.68 L277.42,518.43 L277.55,518.59 L277.69,519.57 L277.83,520.05 L277.97,520.45 L278.11,521.11 L278.25,521.23 L278.38,522.07 L278.52,522.02 L278.66,522.55 L278.80,523.22 L278.94,523.96 L279.08,523.83 L279.22,524.90 L279.35,525.05 L279.49,525.88 L279.63,526.36 L279.77,526.86 L279.91,527.12 L280.05,527.30 L280.18,527.91 L280.32,528.43 L280.46,529.12 L280.60,529.39 L280.74,529.98 L280.88,530.37 L281.02,531.04 L281.15,531.20 L281.29,531.85 L281.43,532.67 L281.57,532.74 L281.71,533.37 L281.85,534.06 L281.98,534.48 L282.12,534.81 L282.26,535.02 L282.40,536.06 L282.54,536.58 L282.68,536.97 L282.82,537.44 L282.95,538.01 L283.09,538.48 L283.23,538.69 L283.37,539.12 L283.51,539.65 L283.65,539.91 L283.78,540.43 L283.92,541.26 L284.06,541.78 L284.20,542.23 L284.34,542.64 L284.48,542.83 L284.62,543.47 L284.75,544.35 L284.89,544.84 L285.03,544.86 L285.17,545.40 L285.31,545.76 L285.45,546.36 L285.58,546.91 L285.72,547.28 L285.86,548.20 L286.00,548.11 L286.13,548.86 L286.27,549.10 L286.40,549.80 L286.53,550.58 L286.67,550.62 L286.80,551.46 L286.93,551.95 L287.07,552.45 L287.20,552.90 L287.33,553.48 L287.47,553.73 L287.60,554.24 L287.73,555.09 L287.87,555.17 L288.00,556.13 L288.13,556.68 L288.27,556.95 L288.40,557.25 L288.53,557.86 L288.67,558.41 L288.80,559.04 L288.93,559.71 L289.07,559.85 L289.20,560.19 L289.33,560.77 L289.46,561.71 L289.58,561.69 L289.69,562.22 L289.80,562.56 L289.89,563.45 L289.99,563.85 L290.09,564.59 L290.19,564.95 L290.29,565.45 L290.38,565.96 L290.48,566.30 L290.58,566.67 L290.68,566.97 L290.78,567.73 L290.87,567.95 L290.97,568.58 L291.07,569.19 L291.17,569.78 L291.26,570.17 L291.36,570.55 L291.46,571.42 L291.56,571.61 L291.66,572.12 L291.75,572.52 L291.85,572.91 L291.95,573.88 L292.05,574.16 L292.15,574.72 L292.24,575.44 L292.34,575.93 L292.44,576.21 L292.54,576.96 L292.64,577.17 L292.73,577.90 L292.83,578.10 L292.93,578.45 L293.03,579.11 L293.12,579.36 L293.22,580.01 L293.32,580.39 L293.42,581.04 L293.52,581.28 L293.61,582.01 L293.71,582.60 L293.81,583.38 L293.91,583.88 L294.01,584.14 L294.10,584.48 L294.21,585.18 L294.32,585.79 L294.44,586.12 L294.57,586.26 L294.70,587.04 L294.83,587.45 L294.97,588.23 L295.10,588.54 L295.23,589.25 L295.37,589.09 L295.50,590.03 L295.63,590.18 L295.77,590.85 L295.90,591.60 L296.03,592.19 L296.17,592.14 L296.30,593.07 L296.43,593.05 L296.57,593.66 L296.70,594.09 L296.83,595.11 L296.97,594.99 L297.10,595.96 L297.23,596.25 L297.37,596.88 L297.50,596.93 L297.63,597.68 L297.77,598.23 L297.90,598.53 L298.03,599.27 L298.17,599.36 L298.30,599.85 L298.43,600.74 L298.57,600.95 L298.70,601.86 L298.83,602.14 L298.97,602.85 L299.10,603.32 L299.23,603.70 L299.37,604.38 L299.50,604.36 L299.63,605.07 L299.77,605.25 L299.90,606.15 L300.03,606.71 L300.17,607.25 L300.30,607.49 L300.43,608.25 L300.57,608.36 L300.70,608.83 L300.83,609.58 L300.97,610.20 L301.10,610.10 L301.23,610.89 L301.37,611.33 L301.50,611.53 L301.63,612.07 L301.77,613.06 L301.90,613.63 L302.03,613.86 L302.17,614.12 L302.30,615.12 L302.43,615.22 L302.57,615.51 L302.70,616.45 L302.83,616.88 L302.97,617.36 L303.10,617.63 L303.23,618.05 L303.37,618.50 L303.50,619.25 L303.63,619.54 L303.77,620.31 L303.90,620.93 L304.03,621.37 L304.17,621.29 L304.30,622.21 L304.43,622.28 L304.57,622.94 L304.70,623.43 L304.83,624.10 L304.97,624.23 L305.10,624.85 L305.23,625.83 L305.37,625.68 L305.50,626.39 L305.63,626.98 L305.77,627.20 L305.90,627.82 L306.03,628.54 L306.17,628.82 L306.30,629.47 L306.43,630.23 L306.57,630.12 L306.70,631.01 L306.83,631.05 L306.97,631.79 L307.10,632.51 L307.23,633.16 L307.37,633.31 L307.50,633.91 L307.63,634.30 L307.77,634.53 L307.90,635.00 L308.03,635.81 L308.17,636.52 L308.30,636.58 L308.43,637.41 L308.57,637.82 L308.70,638.10 L308.83,638.81 L308.97,638.89 L309.10,639.51 L309.23,640.08 L309.37,640.75 L309.50,640.82 L309.63,641.31 L309.77,642.42 L309.90,642.63 L310.03,643.37 L310.17,643.93 L310.30,643.84 L310.43,644.47 L310.57,645.39 L310.70,645.19 L310.83,646.36 L310.97,646.86 L311.12,647.17 L311.27,647.40 L311.43,648.08 L311.60,648.10 L311.77,648.80 L311.93,649.06 L312.10,649.81 L312.27,650.47 L312.43,650.48 L312.60,651.57 L312.77,651.48 L312.93,652.06 L313.10,652.65 L313.27,652.93 L313.43,653.85 L313.60,654.28 L313.77,654.69 L313.93,655.06 L314.10,655.65 L314.27,655.97 L314.43,656.65 L314.60,657.29 L314.77,657.68 L314.93,657.88 L315.10,658.72 L315.27,658.79 L315.43,659.53 L315.60,660.04 L315.77,660.29 L315.93,661.08 L316.10,661.64 L316.27,661.52 L316.43,661.94 L316.60,662.59 L316.77,662.88 L316.93,664.03 L317.10,664.01 L317.27,664.41 L317.44,665.18 L317.61,665.91 L317.78,666.33 L317.96,666.80 L318.14,666.79 L318.32,667.30 L318.50,667.65 L318.68,668.54 L318.86,668.77 L319.04,669.45 L319.23,669.47 L319.41,670.44 L319.59,670.47 L319.77,671.54 L319.95,671.50 L320.13,672.13 L320.31,672.83 L320.49,673.16 L320.67,673.24 L320.85,674.30 L321.03,674.63 L321.21,675.11 L321.39,675.41 L321.57,675.63 L321.75,676.44 L321.93,676.67 L322.11,677.50 L322.29,677.61 L322.48,678.32 L322.66,678.70 L322.84,678.89 L323.02,679.73 L323.20,680.40 L323.38,680.23 L323.56,681.06 L323.74,681.57 L323.92,682.17 L324.10,682.27 L324.29,683.10 L324.48,683.51 L324.66,683.60 L324.85,684.45 L325.04,684.72 L325.23,685.02 L325.42,685.51 L325.61,686.05 L325.79,686.80 L325.98,686.86 L326.17,687.68 L326.36,688.27 L326.55,688.53 L326.74,689.27 L326.92,689.61 L327.11,689.94 L327.30,690.73 L327.49,690.91 L327.68,691.10 L327.86,691.61 L328.05,692.51 L328.24,693.00 L328.43,693.15 L328.62,693.60 L328.81,693.96 L328.99,694.88 L329.18,695.45 L329.37,695.88 L329.56,696.01 L329.75,696.79 L329.94,696.78 L330.12,697.16 L330.31,697.97 L330.50,698.29 L330.50,442.39 L331.02,442.53 L331.41,443.05 L331.66,443.74 L331.85,444.22 L332.03,444.84 L332.21,445.32 L332.40,445.55 L332.58,446.07 L332.76,446.42 L332.95,446.80 L333.13,447.45 L333.31,448.04 L333.49,448.81 L333.68,449.10 L333.86,449.62 L334.04,450.10 L334.23,450.65 L334.41,451.11 L334.59,451.06 L334.77,451.63 L334.96,452.07 L335.14,452.91 L335.32,453.16 L335.51,453.95 L335.69,454.17 L335.87,454.26 L336.05,454.88 L336.24,455.46 L336.42,455.74 L336.60,456.51 L336.79,456.63 L336.97,457.23 L337.15,457.54 L337.33,458.09 L337.52,458.97 L337.71,459.30 L337.90,460.08 L338.10,459.97 L338.29,460.47 L338.49,460.84 L338.69,461.40 L338.88,461.93 L339.08,462.48 L339.28,462.82 L339.48,463.22 L339.67,463.83 L339.87,464.06 L340.07,465.07 L340.27,465.35 L340.46,465.77 L340.66,466.20 L340.86,466.72 L341.06,467.49 L341.25,467.53 L341.45,468.12 L341.65,468.33 L341.85,468.92 L342.04,469.17 L342.24,470.17 L342.44,470.50 L342.64,471.03 L342.83,471.48 L343.03,471.51 L343.23,472.32 L343.43,472.44 L343.62,473.23 L343.82,473.35 L344.02,473.83 L344.22,474.27 L344.41,475.02 L344.61,475.19 L344.81,475.82 L345.00,476.32 L345.20,477.18 L345.38,477.51 L345.56,477.84 L345.72,478.42 L345.88,478.40 L346.04,479.13 L346.20,479.55 L346.36,480.29 L346.52,480.40 L346.68,481.45 L346.84,481.50 L347.00,482.36 L347.16,482.82 L347.32,483.04 L347.48,483.19 L347.64,483.75 L347.80,484.42 L347.96,485.15 L348.12,485.44 L348.28,486.25 L348.44,486.70 L348.60,486.78 L348.76,487.72 L348.92,487.88 L349.08,488.04 L349.24,488.50 L349.40,489.21 L349.56,489.72 L349.72,490.04 L349.88,491.02 L350.04,491.09 L350.20,491.89 L350.36,491.98 L350.52,492.61 L350.68,493.06 L350.84,493.81 L351.00,494.01 L351.16,494.39 L351.32,495.30 L351.48,495.65 L351.64,495.79 L351.81,496.32 L351.99,496.70 L352.17,497.69 L352.36,497.87 L352.54,498.64 L352.73,498.94 L352.91,499.57 L353.10,500.02 L353.29,500.29 L353.47,500.62 L353.66,501.19 L353.84,501.77 L354.03,502.57 L354.21,502.55 L354.40,503.35 L354.59,503.49 L354.77,504.23 L354.96,504.78 L355.14,504.74 L355.33,505.73 L355.51,506.30 L355.70,506.80 L355.89,507.26 L356.07,507.39 L356.26,507.70 L356.44,508.32 L356.63,509.17 L356.81,509.51 L357.00,509.86 L357.19,509.99 L357.37,510.51 L357.56,511.33 L357.74,512.03 L357.93,512.32 L358.11,512.63 L358.29,512.86 L358.46,513.48 L358.62,514.25 L358.78,514.50 L358.94,515.16 L359.10,515.29 L359.26,516.12 L359.42,516.55 L359.58,516.73 L359.74,517.77 L359.90,518.23 L360.06,518.24 L360.22,519.08 L360.38,519.72 L360.54,519.96 L360.70,520.61 L360.86,520.66 L361.02,521.09 L361.18,521.70 L361.34,522.55 L361.50,522.70 L361.66,523.57 L361.82,523.51 L361.98,524.29 L362.14,524.74 L362.30,525.48 L362.46,525.86 L362.62,526.40 L362.78,526.79 L362.94,526.95 L363.10,527.86 L363.26,528.31 L363.42,528.80 L363.58,529.09 L363.74,529.55 L363.90,529.84 L364.06,530.79 L364.22,531.01 L364.38,531.85 L364.54,531.86 L364.69,532.49 L364.85,532.87 L365.00,533.53 L365.15,534.26 L365.30,534.22 L365.44,534.81 L365.59,535.23 L365.74,535.57 L365.89,536.01 L366.04,537.16 L366.19,537.17 L366.34,537.91 L366.49,538.45 L366.63,538.83 L366.78,539.04 L366.93,539.81 L367.08,540.46 L367.23,540.61 L367.38,541.40 L367.53,541.86 L367.68,542.27 L367.83,542.70 L367.97,543.36 L368.12,543.52 L368.27,544.29 L368.42,544.19 L368.57,545.10 L368.72,545.17 L368.87,545.82 L369.02,546.45 L369.17,547.01 L369.31,547.48 L369.46,547.61 L369.61,548.02 L369.76,548.54 L369.91,549.35 L370.06,549.52 L370.21,550.52 L370.36,550.83 L370.50,551.04 L370.65,551.75 L370.80,551.84 L370.95,552.69 L371.11,552.86 L371.27,553.67 L371.44,553.89 L371.61,554.56 L371.77,555.14 L371.94,555.27 L372.11,555.63 L372.28,556.17 L372.45,557.13 L372.62,557.68 L372.78,557.89 L372.95,558.02 L373.12,558.85 L373.29,559.14 L373.46,559.50 L373.63,560.38 L373.79,560.93 L373.96,561.18 L374.13,561.68 L374.30,562.41 L374.47,562.23 L374.64,563.30 L374.81,563.82 L374.97,564.24 L375.14,564.50 L375.31,565.22 L375.48,565.41 L375.65,565.80 L375.82,566.36 L375.98,566.52 L376.15,566.98 L376.32,567.80 L376.49,568.32 L376.66,568.43 L376.83,569.39 L376.99,569.43 L377.16,569.95 L377.34,570.61 L377.54,571.28 L377.76,571.53 L378.00,572.26 L378.25,572.61 L378.50,572.91 L378.75,573.57 L379.00,573.65 L379.25,574.25 L379.50,574.74 L379.75,574.79 L380.00,575.36 L380.25,576.31 L380.50,576.27 L380.75,577.16 L381.00,576.95 L381.25,577.54 L381.50,577.97 L381.75,578.22 L382.00,579.25 L382.25,579.28 L382.50,580.02 L382.75,580.04 L383.00,580.90 L383.25,581.27 L383.50,581.69 L383.78,582.40 L384.11,582.36 L384.50,583.01 L384.95,583.35 L385.42,583.86 L385.90,583.49 L386.38,584.56 L386.85,584.08 L387.30,584.97 L387.71,584.50 L388.05,585.79 L388.34,585.30 L388.62,586.47 L388.89,585.90 L389.17,587.20 L389.44,586.50 L389.72,587.86 L389.99,587.57 L390.26,588.76 L390.54,588.34 L390.81,589.99 L391.08,589.33 L391.36,590.69 L391.63,590.30 L391.91,591.70 L392.18,591.41 L392.45,592.75 L392.73,592.07 L393.02,593.81 L393.33,592.85 L393.64,594.52 L393.96,593.84 L394.28,595.15 L394.60,594.51 L394.92,595.84 L395.24,595.01 L395.56,596.73 L395.88,595.70 L396.20,597.49 L396.52,596.92 L396.84,598.55 L397.16,597.70 L397.48,599.10 L397.80,598.44 L398.12,599.96 L398.44,598.79 L398.76,600.41 L399.09,599.59 L399.42,601.06 L399.77,600.32 L400.13,601.94 L400.50,601.32 L400.87,602.95 L401.23,602.02 L401.60,603.74 L401.97,602.84 L402.33,604.14 L402.70,603.44 L403.07,604.98 L403.43,603.98 L403.80,606.12 L404.17,604.81 L404.53,606.60 L404.90,605.85 L405.27,607.23 L405.63,606.13 L406.00,607.88 L406.37,606.56 L406.73,607.99 L407.10,607.06 L407.48,608.97 L407.85,608.00 L408.23,609.78 L408.61,608.89 L408.98,610.49 L409.36,609.53 L409.74,611.34 L410.11,610.47 L410.49,612.09 L410.86,611.09 L411.24,613.15 L411.62,611.94 L411.99,614.01 L412.37,613.07 L412.75,614.41 L413.14,613.55 L413.57,614.86 L414.04,613.50 L414.54,614.53 L415.06,612.67 L415.58,613.95 L416.10,612.77 L416.62,614.11 L417.14,612.32 L417.66,613.83 L418.17,612.60 L418.67,613.78 L419.16,612.09 L419.63,613.50 L420.09,611.89 L420.55,613.26 L421.02,611.28 L421.48,612.87 L421.95,610.96 L422.41,612.05 L422.87,610.31 L423.32,611.57 L423.72,609.81 L424.08,611.16 L424.40,610.08 L424.70,612.03 L425.00,610.58 L425.30,612.26 L425.60,611.01 L425.90,613.23 L426.20,611.39 L426.50,613.55 L426.80,612.46 L427.10,614.52 L427.40,613.25 L427.70,615.98 L428.00,613.92 L428.30,616.64 L428.59,614.84 L428.87,618.01 L429.12,616.54 L429.37,618.93 L429.60,617.55 L429.83,620.77 L430.07,618.41 L430.30,621.37 L430.53,619.29 L430.77,622.57 L431.00,619.98 L431.23,623.52 L431.47,621.52 L431.70,624.10 L431.93,621.57 L432.17,624.89 L432.40,622.32 L432.63,625.27 L432.87,623.57 L433.12,625.84 L433.39,623.49 L433.66,626.48 L433.95,623.93 L434.23,627.77 L434.51,625.50 L434.79,628.14 L435.07,626.14 L435.35,629.93 L435.64,627.11 L435.92,630.75 L436.21,629.04 L436.51,632.22 L436.82,629.53 L437.13,633.35 L437.44,630.64 L437.75,633.16 L438.06,631.49 L438.37,634.59 L438.68,631.86 L438.99,634.57 L439.30,633.04 L439.60,636.08 L439.90,633.73 L440.20,637.17 L440.50,634.44 L440.80,637.56 L441.10,635.24 L441.40,638.42 L441.70,635.81 L442.00,638.87 L442.30,636.79 L442.61,639.55 L442.92,637.87 L443.23,640.87 L443.54,638.62 L443.85,642.26 L444.16,640.17 L444.47,643.12 L444.78,640.88 L445.09,643.82 L445.40,641.55 L445.71,644.80 L446.02,642.97 L446.33,646.14 L446.64,643.99 L446.95,646.98 L447.26,644.61 L447.57,647.94 L447.88,645.94 L448.20,649.41 L448.54,647.11 L448.90,649.72 L449.28,647.60 L449.66,650.31 L450.05,648.00 L450.44,650.56 L450.83,648.32 L451.23,651.69 L451.66,649.14 L452.13,651.83 L452.64,649.22 L453.15,652.55 L453.67,649.33 L454.18,652.55 L454.70,650.07 L455.22,653.11 L455.73,649.47 L456.25,652.88 L456.77,649.94 L457.27,652.17 L457.76,649.40 L458.22,652.08 L458.66,649.85 L459.09,652.52 L459.51,650.48 L459.94,653.86 L460.37,650.63 L460.80,654.43 L461.22,651.81 L461.64,655.55 L462.06,652.53 L462.47,655.82 L462.86,653.19 L463.21,655.36 L463.55,652.60 L463.88,654.47 L464.20,651.38 L464.52,654.43 L464.85,651.11 L465.18,653.09 L465.52,650.12 L465.86,653.17 L466.21,650.46 L466.57,654.02 L466.93,651.22 L467.28,654.71 L467.63,651.65 L467.94,655.02 L468.22,652.40 L468.47,656.08 L468.71,653.29 L468.95,657.15 L469.18,654.65 L469.42,657.20 L469.65,654.74 L469.89,658.49 L470.13,656.03 L470.40,659.00 L470.73,656.08 L471.16,659.76 L471.64,655.92 L472.16,658.82 L472.68,656.26 L473.20,658.87 L473.72,656.07 L474.24,659.26 L474.76,656.11 L475.25,658.82 L475.70,656.21 L476.09,659.73 L476.42,656.82 L476.74,660.45 L477.05,656.94 L477.36,660.68 L477.68,657.46 L478.00,660.59 L478.36,658.42 L478.75,661.27 L479.17,659.47 L479.60,662.61 L480.03,659.80 L480.43,663.51 L480.75,660.45 L480.98,663.92 L481.14,661.94 L481.27,665.64 L481.39,663.49 L481.52,667.11 L481.64,665.02 L481.76,667.97 L481.89,666.32 L482.01,669.12 L482.14,666.69 L482.26,670.77 L482.38,667.87 L482.51,670.65 L482.63,668.41 L482.76,671.60 L482.91,668.94 L483.11,672.03 L483.39,669.43 L483.72,672.23 L484.07,669.66 L484.43,673.10 L484.79,670.60 L485.16,674.29 L485.57,671.37 L486.04,675.04 L486.54,671.55 L487.05,674.48 L487.56,670.74 L488.07,673.75 L488.54,670.21 L488.97,672.02 L489.37,669.36 L489.76,671.80 L490.15,667.76 L490.54,670.21 L490.92,667.54 L491.30,669.92 L491.65,667.11 L491.98,668.85 L492.28,665.72 L492.57,668.82 L492.86,664.82 L493.14,667.34 L493.43,663.76 L493.72,666.87 L494.00,662.83 L494.27,665.59 L494.52,663.11 L494.75,666.20 L494.98,663.43 L495.21,667.19 L495.44,664.94 L495.66,667.83 L495.89,666.06 L496.12,668.92 L496.35,666.77 L496.61,669.88 L496.94,667.46 L497.35,669.55 L497.84,666.75 L498.35,669.25 L498.86,666.31 L499.36,669.25 L499.81,665.84 L500.20,668.61 L500.55,665.26 L500.88,668.57 L501.21,665.10 L501.54,667.53 L501.86,664.87 L502.19,667.28 L502.52,664.43 L502.84,666.53 L503.15,663.94 L503.41,666.35 L503.62,663.30 L503.78,666.64 L503.93,663.65 L504.07,667.26 L504.22,664.98 L504.36,667.98 L504.51,665.91 L504.65,669.25 L504.79,667.06 L504.94,670.13 L505.08,668.32 L505.23,671.67 L505.37,668.68 L505.51,672.71 L505.66,670.15 L505.80,673.07 L505.95,670.56 L506.11,673.43 L506.26,669.29 L506.41,671.61 L506.56,668.28 L506.72,670.55 L506.87,666.95 L507.02,669.33 L507.17,665.92 L507.33,668.87 L507.48,665.50 L507.63,666.88 L507.78,663.93 L507.94,666.17 L508.09,662.48 L508.24,665.02 L508.39,662.38 L508.55,664.58 L508.71,660.73 L508.87,662.97 L509.03,659.26 L509.19,661.82 L509.36,658.19 L509.52,660.06 L509.69,656.72 L509.85,659.84 L510.01,657.34 L510.18,659.82 L510.34,656.48 L510.51,658.58 L510.67,655.88 L510.83,658.25 L510.99,654.83 L511.13,658.31 L511.28,655.72 L511.41,659.54 L511.55,657.28 L511.69,660.96 L511.83,658.20 L511.97,661.24 L512.10,658.88 L512.24,662.44 L512.38,659.03 L512.52,662.41 L512.66,660.31 L512.80,663.20 L512.93,661.14 L513.07,664.09 L513.21,661.45 L513.35,665.01 L513.49,662.36 L513.63,665.97 L513.77,663.36 L513.95,666.33 L514.15,663.94 L514.38,667.50 L514.62,665.06 L514.87,668.52 L515.11,666.09 L515.35,669.82 L515.59,667.72 L515.83,671.41 L516.07,669.16 L516.32,672.91 L516.55,670.70 L516.78,673.46 L516.99,671.94 L517.18,674.84 L517.38,672.42 L517.57,675.56 L517.76,673.67 L517.95,677.02 L518.14,674.94 L518.33,678.17 L518.52,675.71 L518.72,678.98 L518.91,676.66 L519.12,680.76 L519.33,677.64 L519.56,680.97 L519.79,678.95 L520.02,681.90 L520.25,679.08 L520.48,681.98 L520.71,680.18 L520.94,683.17 L521.17,680.78 L521.38,683.11 L521.59,679.97 L521.79,682.96 L521.98,679.57 L522.17,681.85 L522.37,679.45 L522.56,681.50 L522.75,679.13 L522.95,681.04 L523.14,678.57 L523.33,680.68 L523.53,677.25 L523.72,679.48 L523.91,676.14 L524.12,677.76 L524.33,675.11 L524.57,677.71 L524.83,675.35 L525.09,678.66 L525.35,676.54 L525.62,679.49 L525.88,677.17 L526.15,680.39 L526.41,678.06 L526.67,681.38 L526.93,679.21 L527.18,682.26 L527.43,679.53 L527.66,682.73 L527.89,680.56 L528.12,683.24 L528.35,680.95 L528.58,684.12 L528.81,682.16 L529.04,685.08 L529.27,683.27 L529.48,686.60 L529.69,683.47 L529.89,685.65 L530.08,682.66 L530.27,684.14 L530.47,680.79 L530.66,682.21 L530.85,679.10 L531.05,681.04 L531.24,678.02 L531.43,680.85 L531.63,677.84 L531.82,680.51 L532.01,677.75 L532.20,679.60 L532.39,676.26 L532.56,678.87 L532.73,675.01 L532.90,677.53 L533.07,673.55 L533.23,676.53 L533.40,672.81 L533.57,675.82 L533.73,672.67 L533.90,674.94 L534.07,672.28 L534.23,674.07 L534.40,671.43 L534.57,673.47 L534.73,670.29 L534.90,672.53 L535.07,669.72 L535.23,671.66 L535.40,668.65 L535.57,670.99 L535.77,667.41 L536.04,670.28 L536.40,666.41 L536.82,669.36 L537.28,666.62 L537.71,669.06 L538.10,666.54 L538.41,669.33 L538.68,666.78 L538.93,670.39 L539.17,668.04 L539.41,671.07 L539.65,669.54 L539.89,672.68 L540.13,669.84 L540.38,673.33 L540.62,670.58 L540.86,673.56 L541.09,671.26 L541.33,674.18 L541.56,671.69 L541.79,674.92 L542.02,672.74 L542.25,675.73 L542.48,673.71 L542.71,677.16 L542.94,674.20 L543.16,677.57 L543.36,675.24 L543.53,678.99 L543.69,676.24 L543.83,679.37 L543.98,676.70 L544.12,680.26 L544.26,677.95 L544.41,681.62 L544.55,679.17 L544.69,682.78 L544.84,680.06 L544.98,683.51 L545.12,681.23 L545.27,684.45 L545.41,682.51 L545.55,685.78 L545.66,682.83 L545.75,685.54 L545.82,682.31 L545.89,685.26 L545.95,681.65 L546.01,684.14 L546.07,681.26 L546.14,683.47 L546.20,679.87 L546.26,682.60 L546.32,679.27 L546.38,681.32 L546.45,677.74 L546.51,679.62 L546.57,676.74 L546.63,678.40 L546.69,674.76 L546.76,677.20 L546.82,674.48 L546.88,676.62 L546.94,673.35 L547.01,675.38 L547.07,672.66 L547.13,674.97 L547.19,672.15 L547.25,674.41 L547.32,671.50 L547.38,673.27 L547.44,670.17 L547.50,671.94 L547.56,668.54 L547.63,670.64 L547.69,667.76 L547.75,669.54 L547.81,665.91 L547.88,668.83 L547.95,665.48 L548.06,667.86 L548.21,664.74 L548.39,666.69 L548.58,663.43 L548.77,664.69 L548.96,661.55 L549.15,663.62 L549.34,660.64 L549.53,662.62 L549.72,660.41 L549.92,662.28 L550.10,659.49 L550.26,662.17 L550.40,659.67 L550.52,662.65 L550.63,661.01 L550.74,663.96 L550.85,661.40 L550.96,664.22 L551.07,662.58 L551.18,665.25 L551.29,663.57 L551.40,666.43 L551.50,664.34 L551.61,667.71 L551.72,665.72 L551.83,668.59 L551.94,665.87 L552.05,669.20 L552.16,667.00 L552.27,670.18 L552.38,668.22 L552.49,671.14 L552.60,669.12 L552.70,671.55 L552.81,668.52 L552.91,670.68 L553.02,668.27 L553.12,670.43 L553.23,666.74 L553.33,668.54 L553.43,665.45 L553.54,667.41 L553.64,664.56 L553.75,666.26 L553.85,663.04 L553.96,665.65 L554.06,662.20 L554.17,664.36 L554.27,661.49 L554.37,663.05 L554.48,659.90 L554.58,661.98 L554.69,658.99 L554.80,660.93 L554.93,658.50 L555.13,660.26 L555.42,658.36 L555.77,660.91 L556.15,658.75 L556.53,662.14 L556.88,659.89 L557.18,661.78 L557.39,659.27 L557.54,661.69 L557.66,658.47 L557.79,660.49 L557.91,657.62 L558.03,660.07 L558.15,656.89 L558.27,658.66 L558.39,655.78 L558.51,657.87 L558.64,654.63 L558.76,657.30 L558.88,653.74 L559.01,656.36 L559.14,652.80 L559.28,654.34 L559.42,651.66 L559.57,653.31 L559.71,650.64 L559.85,652.40 L559.99,649.82 L560.13,651.25 L560.28,648.73 L560.41,650.80 L560.54,648.07 L560.64,650.74 L560.70,649.22 L560.72,652.14 L560.74,649.79 L560.75,653.44 L560.76,650.70 L560.77,654.01 L560.78,652.05 L560.79,654.48 L560.81,652.39 L560.82,655.98 L560.83,653.38 L560.84,657.10 L560.85,654.41 L560.86,657.71 L560.88,655.46 L560.89,658.46 L560.90,655.54 L560.91,658.82 L560.92,656.67 L560.94,659.61 L560.95,657.33 L560.96,660.13 L560.97,657.87 L560.98,661.28 L560.99,659.79 L561.01,662.74 L561.02,661.03 L561.03,664.44 L561.04,661.65 L561.05,665.45 L561.06,663.54 L561.08,666.59 L561.09,664.47 L561.10,667.47 L561.11,665.59 L561.12,668.70 L561.14,666.32 L561.15,669.59 L561.16,667.94 L561.17,671.24 L561.18,668.55 L561.19,671.85 L561.21,669.64 L561.22,673.23 L561.23,671.13 L561.24,673.95 L561.25,672.08 L561.26,674.69 L561.28,672.38 L561.32,675.55 L561.43,673.83 L561.62,676.78 L561.88,674.51 L562.16,677.37 L562.45,675.25 L562.74,678.70 L563.02,676.78 L563.29,679.16 L563.52,676.41 L563.71,679.13 L563.85,676.09 L563.98,678.38 L564.10,675.09 L564.23,676.91 L564.36,674.45 L564.48,676.58 L564.61,673.31 L564.73,675.21 L564.86,672.13 L564.99,673.69 L565.11,670.71 L565.24,672.09 L565.37,669.75 L565.49,671.07 L565.62,668.20 L565.74,670.40 L565.87,667.61 L566.00,669.78 L566.12,666.51 L566.25,668.87 L566.36,665.17 L566.47,668.07 L566.54,665.38 L566.60,668.57 L566.66,665.63 L566.71,669.25 L566.76,666.78 L566.81,669.90 L566.87,667.73 L566.92,671.06 L566.97,669.09 L567.02,672.16 L567.08,670.34 L567.13,673.81 L567.18,671.78 L567.23,674.59 L567.28,672.69 L567.34,675.51 L567.39,673.61 L567.44,676.84 L567.49,674.24 L567.55,677.29 L567.60,674.68 L567.65,677.84 L567.70,675.16 L567.75,678.78 L567.81,676.36 L567.86,680.01 L567.91,677.79 L567.96,681.64 L568.02,679.34 L568.07,683.01 L568.12,680.89 L568.17,683.79 L568.22,682.02 L568.28,685.20 L568.33,682.96 L568.38,685.57 L568.43,683.18 L568.49,686.77 L568.54,684.66 L568.59,687.78 L568.64,685.63 L568.70,688.35 L568.76,686.25 L568.83,688.96 L568.92,686.15 L569.03,688.48 L569.14,685.20 L569.25,687.06 L569.36,683.84 L569.48,686.13 L569.59,682.99 L569.70,685.60 L569.81,682.35 L569.92,685.12 L570.04,682.30 L570.15,683.95 L570.26,681.28 L570.38,683.39 L570.49,679.89 L570.62,681.99 L570.77,678.40 L570.93,680.34 L571.09,677.63 L571.26,679.57 L571.42,677.08 L571.59,679.19 L571.75,676.55 L571.91,678.95 L572.08,675.93 L572.24,678.01 L572.41,674.80 L572.57,676.71 L572.72,673.80 L572.86,676.24 L572.97,673.24 L573.05,675.77 L573.13,673.97 L573.21,677.03 L573.28,674.60 L573.36,677.63 L573.44,675.50 L573.51,678.83 L573.59,676.17 L573.67,679.34 L573.74,677.15 L573.82,680.44 L573.90,678.13 L573.97,681.04 L574.05,678.91 L574.13,681.74 L574.20,679.48 L574.28,682.75 L574.36,680.50 L574.43,683.51 L574.51,682.30 L574.59,684.90 L574.66,683.53 L574.74,686.44 L574.82,684.95 L574.89,688.40 L574.97,686.11 L575.05,690.10 L575.17,687.50 L575.38,690.75 L575.71,687.72 L576.13,690.13 L576.57,686.55 L576.99,689.17 L577.33,686.28 L577.54,689.03 L577.67,686.20 L577.76,689.72 L577.85,686.89 L577.94,690.25 L578.02,688.40 L578.11,690.90 L578.20,689.68 L578.29,692.78 L578.38,691.07 L578.46,693.99 L578.55,692.12 L578.64,694.54 L578.73,692.59 L578.81,695.37 L578.90,693.51 L578.99,696.66 L579.08,694.96 L579.16,697.37 L579.25,695.77 L579.34,698.42 L579.42,696.87 L579.51,699.79 L579.60,698.51 L579.80,443.37 L579.88,441.94 L579.97,444.55 L580.05,443.13 L580.13,445.97 L580.22,443.92 L580.30,446.68 L580.38,444.84 L580.47,447.30 L580.55,445.75 L580.63,447.51 L580.72,446.30 L580.80,448.42 L580.88,447.33 L580.97,449.59 L581.05,448.37 L581.13,450.89 L581.21,449.90 L581.30,452.38 L581.38,450.85 L581.46,453.36 L581.54,452.50 L581.63,454.30 L581.71,452.86 L581.79,455.46 L581.87,454.25 L581.96,456.06 L582.04,454.79 L582.12,457.09 L582.20,456.03 L582.29,458.12 L582.37,457.06 L582.45,459.12 L582.54,457.80 L582.62,460.31 L582.72,458.85 L582.83,461.52 L582.95,460.06 L583.08,462.49 L583.21,461.44 L583.33,463.65 L583.46,462.19 L583.59,464.86 L583.71,463.73 L583.84,465.61 L583.97,464.40 L584.09,466.77 L584.22,465.37 L584.35,467.71 L584.49,466.56 L584.67,468.35 L584.91,467.42 L585.17,469.50 L585.46,468.23 L585.74,470.97 L586.03,469.43 L586.30,471.91 L586.56,469.92 L586.78,471.74 L586.98,469.55 L587.17,471.10 L587.37,468.26 L587.56,470.00 L587.75,467.46 L587.94,468.44 L588.13,466.47 L588.33,467.64 L588.52,465.46 L588.71,466.86 L588.89,464.83 L589.08,466.59 L589.26,465.16 L589.44,467.61 L589.61,465.88 L589.79,468.11 L589.97,466.20 L590.15,468.81 L590.33,467.05 L590.51,469.68 L590.69,468.21 L590.86,470.44 L591.04,469.59 L591.23,471.72 L591.43,471.05 L591.65,473.49 L591.88,471.68 L592.12,474.44 L592.37,472.91 L592.61,474.63 L592.85,473.21 L593.09,475.58 L593.33,474.01 L593.57,476.30 L593.82,474.93 L594.06,477.57 L594.31,476.16 L594.55,478.61 L594.81,477.44 L595.06,479.59 L595.31,478.65 L595.57,480.87 L595.82,479.65 L596.07,481.87 L596.33,480.04 L596.58,482.40 L596.83,480.85 L597.09,483.36 L597.34,482.11 L597.59,484.08 L597.83,482.99 L598.05,485.08 L598.22,482.44 L598.37,484.22 L598.51,481.14 L598.65,482.55 L598.79,480.17 L598.93,480.90 L599.07,478.54 L599.20,479.97 L599.34,478.15 L599.48,479.70 L599.62,477.25 L599.76,478.49 L599.90,476.68 L600.03,477.87 L600.17,475.73 L600.31,476.89 L600.45,474.71 L600.59,475.91 L600.72,473.78 L600.85,474.86 L600.97,472.68 L601.07,474.64 L601.15,473.40 L601.22,475.69 L601.30,474.30 L601.37,477.45 L601.44,476.16 L601.52,478.80 L601.59,477.15 L601.67,479.91 L601.74,478.21 L601.81,480.35 L601.89,478.86 L601.96,481.05 L602.04,479.53 L602.11,482.00 L602.19,480.93 L602.26,483.10 L602.33,481.71 L602.41,483.67 L602.48,482.53 L602.56,484.80 L602.63,483.05 L602.70,484.79 L602.78,483.70 L602.85,486.01 L602.94,485.05 L603.05,487.55 L603.19,486.32 L603.36,489.19 L603.54,487.92 L603.73,489.97 L603.91,488.83 L604.09,491.56 L604.27,490.06 L604.45,492.29 L604.63,490.70 L604.81,493.19 L604.99,491.70 L605.17,494.23 L605.36,492.57 L605.54,494.93 L605.73,493.74 L605.96,496.15 L606.23,494.71 L606.52,496.79 L606.83,495.10 L607.14,497.54 L607.46,496.09 L607.77,498.36 L608.08,497.27 L608.37,499.55 L608.62,497.95 L608.82,500.15 L608.99,498.78 L609.13,501.20 L609.28,499.27 L609.43,501.68 L609.57,500.53 L609.72,502.79 L609.86,501.37 L610.00,504.12 L610.15,502.73 L610.30,505.09 L610.44,503.46 L610.59,505.96 L610.73,504.78 L610.88,507.14 L611.02,505.74 L611.17,507.96 L611.31,506.95 L611.47,509.14 L611.65,508.14 L611.85,510.24 L612.08,508.97 L612.33,511.20 L612.57,509.68 L612.81,511.84 L613.05,509.69 L613.29,512.51 L613.53,510.92 L613.77,512.87 L614.02,511.50 L614.25,514.19 L614.47,513.45 L614.67,515.68 L614.86,514.48 L615.04,517.28 L615.23,515.87 L615.41,517.84 L615.59,516.37 L615.77,518.87 L615.95,516.86 L616.13,519.27 L616.31,517.84 L616.49,520.12 L616.67,518.90 L616.86,521.35 L617.04,519.93 L617.21,522.18 L617.37,520.47 L617.52,523.18 L617.65,521.80 L617.78,524.45 L617.90,523.27 L618.03,525.29 L618.16,524.40 L618.28,526.51 L618.41,525.21 L618.53,527.50 L618.66,526.20 L618.79,528.69 L618.91,526.85 L619.04,529.66 L619.17,527.84 L619.29,530.11 L619.42,528.92 L619.54,531.08 L619.67,529.36 L619.80,531.67 L619.92,529.96 L620.05,532.57 L620.17,530.76 L620.28,533.12 L620.38,531.58 L620.47,534.70 L620.55,533.12 L620.63,535.95 L620.71,534.75 L620.80,537.18 L620.88,535.64 L620.96,538.55 L621.05,536.63 L621.13,538.97 L621.21,537.82 L621.29,540.66 L621.38,539.15 L621.46,541.56 L621.54,540.07 L621.63,542.43 L621.71,540.71 L621.79,543.72 L621.87,542.09 L621.96,544.61 L622.04,543.10 L622.12,545.42 L622.21,543.99 L622.29,546.37 L622.37,544.82 L622.45,546.73 L622.54,545.80 L622.62,548.21 L622.70,546.37 L622.79,549.12 L622.87,547.20 L622.95,550.08 L623.04,548.65 L623.18,550.44 L623.43,549.30 L623.84,550.96 L624.35,549.65 L624.88,551.50 L625.33,550.15 L625.66,552.61 L625.91,551.14 L626.12,553.86 L626.33,552.22 L626.54,554.98 L626.75,552.93 L626.96,555.25 L627.17,554.11 L627.38,556.47 L627.58,554.91 L627.78,557.37 L627.95,555.92 L628.09,558.86 L628.21,557.08 L628.32,559.88 L628.43,558.28 L628.54,560.88 L628.64,559.47 L628.75,561.79 L628.86,560.04 L628.97,562.46 L629.07,560.64 L629.18,562.78 L629.29,560.94 L629.40,563.28 L629.50,561.72 L629.61,563.66 L629.72,562.01 L629.83,564.76 L629.93,563.32 L630.04,566.00 L630.15,564.25 L630.26,567.35 L630.36,565.64 L630.47,568.90 L630.58,567.15 L630.69,570.22 L630.82,568.47 L631.02,571.32 L631.29,569.21 L631.61,570.71 L631.96,568.38 L632.32,570.15 L632.67,567.77 L633.03,569.33 L633.38,566.98 L633.74,568.43 L634.09,566.46 L634.46,568.32 L634.86,565.80 L635.30,567.21 L635.78,565.18 L636.26,566.68 L636.75,564.84 L637.24,566.88 L637.73,564.39 L638.22,566.27 L638.71,564.05 L639.22,566.44 L639.73,564.11 L640.24,566.66 L640.76,564.71 L641.27,566.87 L641.75,565.28 L642.16,567.10 L642.47,565.65 L642.71,568.48 L642.92,566.72 L643.12,568.90 L643.33,567.35 L643.53,569.85 L643.74,568.34 L643.94,570.97 L644.15,568.98 L644.36,571.85 L644.56,569.60 L644.77,572.23 L644.97,570.85 L645.18,573.67 L645.38,572.42 L645.59,574.85 L645.79,573.25 L645.99,575.90 L646.18,574.55 L646.36,576.66 L646.54,575.23 L646.72,577.93 L646.90,576.44 L647.08,578.69 L647.26,576.73 L647.44,579.29 L647.62,577.41 L647.80,579.76 L647.98,578.06 L648.16,580.64 L648.34,579.53 L648.52,581.81 L648.70,579.92 L648.88,582.93 L649.06,581.15 L649.25,583.61 L649.46,581.97 L649.76,584.32 L650.17,582.71 L650.66,584.80 L651.19,583.60 L651.71,585.60 L652.24,583.64 L652.75,585.89 L653.23,584.35 L653.65,586.78 L654.04,584.78 L654.41,587.16 L654.78,585.92 L655.15,588.27 L655.52,586.20 L655.89,589.17 L656.26,587.52 L656.61,589.43 L656.93,587.69 L657.21,589.37 L657.45,587.05 L657.67,588.56 L657.90,586.46 L658.12,587.64 L658.35,585.73 L658.58,586.83 L658.80,584.67 L659.02,586.22 L659.25,583.51 L659.48,585.23 L659.70,582.40 L659.93,583.78 L660.15,581.11 L660.39,582.87 L660.64,580.81 L660.92,583.14 L661.22,581.17 L661.52,584.17 L661.83,582.60 L662.14,584.89 L662.45,583.39 L662.76,586.03 L663.07,584.35 L663.38,586.37 L663.68,584.64 L663.99,587.27 L664.31,585.00 L664.62,587.14 L664.94,585.68 L665.26,587.88 L665.58,586.14 L665.90,588.73 L666.22,587.41 L666.54,589.38 L666.86,587.84 L667.18,590.84 L667.50,588.97 L667.82,591.58 L668.14,589.91 L668.46,592.36 L668.76,591.08 L669.03,593.43 L669.24,591.97 L669.42,594.24 L669.58,592.50 L669.74,594.73 L669.90,593.34 L670.07,595.53 L670.23,593.53 L670.39,596.29 L670.55,594.71 L670.71,596.97 L670.87,595.44 L671.03,598.22 L671.19,596.64 L671.35,599.11 L671.51,597.31 L671.67,600.06 L671.83,598.25 L672.00,601.03 L672.16,599.71 L672.32,601.96 L672.48,600.38 L672.67,602.92 L672.90,600.90 L673.20,603.09 L673.54,600.55 L673.91,602.27 L674.28,599.83 L674.65,601.07 L675.02,598.76 L675.39,600.37 L675.76,598.71 L676.15,599.96 L676.58,598.24 L677.05,599.96 L677.57,598.65 L678.10,600.79 L678.63,599.15 L679.17,601.09 L679.70,599.31 L680.23,601.86 L680.74,599.98 L681.19,601.95 L681.56,600.51 L681.87,603.01 L682.16,601.63 L682.45,604.05 L682.74,603.10 L683.03,605.41 L683.32,603.52 L683.61,605.75 L683.89,604.66 L684.18,607.11 L684.47,605.68 L684.76,608.05 L685.05,606.46 L685.34,608.51 L685.62,606.99 L685.90,608.94 L686.15,607.11 L686.37,608.27 L686.57,606.14 L686.75,607.58 L686.94,604.95 L687.12,606.49 L687.31,604.08 L687.50,605.69 L687.68,603.49 L687.87,604.69 L688.05,602.46 L688.24,603.20 L688.42,601.10 L688.61,601.78 L688.79,599.98 L688.97,600.90 L689.16,599.26 L689.35,600.42 L689.53,598.23 L689.70,599.51 L689.84,597.76 L689.95,598.49 L690.03,596.80 L690.10,597.55 L690.16,595.55 L690.23,596.25 L690.30,594.65 L690.36,595.22 L690.43,593.53 L690.49,594.27 L690.56,592.80 L690.62,593.04 L690.69,591.57 L690.76,592.08 L690.82,590.73 L690.89,591.20 L690.95,589.85 L691.02,590.29 L691.09,588.85 L691.15,589.18 L691.22,588.01 L691.28,588.49 L691.35,587.11 L691.42,586.53 L691.48,586.08 L691.55,586.13 L691.61,585.55 L691.68,584.60 L691.75,584.30 L691.81,583.67 L691.88,583.54 L691.94,582.49 L692.01,581.97 L692.08,582.15 L692.14,581.11 L692.21,580.61 L692.27,580.54 L692.34,580.07 L692.40,579.37 L692.47,578.58 L692.54,578.12 L692.60,577.58 L692.67,576.95 L692.73,576.47 L692.78,576.26 L692.83,575.86 L692.86,575.04 L692.89,574.47 L692.92,574.08 L692.95,573.52 L692.98,573.01 L693.01,572.63 L693.04,572.13 L693.07,571.53 L693.10,571.03 L693.13,570.47 L693.16,570.28 L693.19,569.50 L693.22,569.40 L693.25,569.08 L693.28,568.10 L693.31,567.60 L693.34,567.47 L693.37,566.83 L693.40,565.99 L693.43,566.10 L693.46,564.97 L693.49,564.84 L693.52,564.09 L693.55,563.98 L693.58,563.05 L693.61,562.82 L693.64,562.28 L693.67,561.74 L693.70,561.28 L693.73,560.76 L693.76,560.14 L693.79,559.77 L693.82,559.05 L693.85,558.54 L693.88,558.35 L693.92,557.78 L693.95,557.36 L693.98,556.82 L694.01,556.37 L694.04,555.64 L694.07,555.64 L694.10,554.63 L694.13,554.13 L694.16,553.64 L694.19,552.98 L694.22,553.14 L694.25,552.54 L694.28,552.13 L694.31,551.27 L694.34,551.03 L694.37,550.51 L694.40,549.60 L694.43,549.33 L694.46,548.49 L694.49,548.51 L694.52,547.70 L694.55,547.53 L694.58,546.88 L694.61,546.35 L694.64,545.64 L694.67,545.50 L694.70,544.60 L694.73,544.04 L694.76,543.67 L694.79,543.42 L694.82,542.96 L694.85,542.01 L694.88,542.09 L694.91,541.09 L694.94,541.07 L694.97,540.34 L695.00,540.14 L695.03,539.01 L695.05,538.86 L695.08,538.28 L695.11,537.58 L695.14,537.47 L695.16,536.77 L695.19,536.54 L695.22,536.03 L695.25,535.10 L695.27,534.67 L695.30,534.11 L695.33,533.95 L695.36,533.52 L695.38,532.99 L695.41,531.93 L695.44,531.85 L695.47,530.95 L695.49,531.12 L695.52,530.55 L695.55,529.68 L695.58,529.17 L695.60,528.50 L695.63,528.30 L695.66,527.87 L695.68,527.43 L695.71,526.51 L695.74,526.30 L695.77,525.90 L695.79,525.48 L695.82,524.42 L695.85,524.25 L695.88,523.62 L695.90,523.29 L695.93,522.78 L695.96,522.18 L695.99,522.07 L696.01,521.34 L696.04,520.62 L696.07,520.56 L696.10,519.64 L696.12,519.44 L696.15,518.92 L696.18,517.99 L696.21,517.63 L696.23,517.05 L696.26,517.05 L696.29,516.19 L696.32,516.00 L696.34,515.31 L696.37,514.92 L696.40,514.04 L696.42,513.64 L696.45,513.45 L696.48,512.87 L696.51,512.52 L696.53,511.92 L696.56,511.34 L696.59,510.84 L696.62,510.06 L696.64,509.47 L696.67,509.28 L696.70,508.78 L696.73,508.47 L696.75,507.54 L696.78,507.03 L696.81,507.01 L696.84,506.20 L696.86,505.70 L696.89,505.31 L696.92,504.36 L696.95,503.98 L696.97,503.99 L697.00,502.94 L697.03,502.99 L697.07,502.49 L697.10,501.38 L697.13,501.19 L697.16,500.53 L697.20,500.29 L697.23,499.97 L697.26,499.02 L697.29,498.40 L697.33,498.45 L697.36,497.83 L697.39,497.05 L697.43,496.88 L697.46,496.15 L697.49,495.35 L697.52,495.03 L697.56,494.78 L697.59,493.98 L697.62,493.70 L697.66,492.87 L697.69,492.79 L697.72,491.88 L697.75,491.47 L697.79,491.27 L697.82,490.36 L697.85,490.03 L697.88,489.78 L697.92,489.15 L697.95,488.26 L697.98,487.77 L698.02,487.73 L698.05,486.72 L698.08,486.29 L698.11,485.72 L698.15,485.30 L698.18,485.10 L698.21,484.37 L698.24,483.67 L698.28,483.61 L698.31,483.05 L698.34,482.52 L698.38,482.05 L698.41,481.57 L698.44,480.76 L698.47,480.13 L698.51,479.89 L698.54,479.12 L698.57,478.89 L698.61,478.68 L698.64,477.67 L698.67,477.56 L698.70,477.01 L698.74,476.67 L698.77,475.94 L698.80,475.55 L698.83,475.09 L698.87,474.48 L698.90,473.70 L698.93,473.70 L698.96,472.88 L699.00,472.20 L699.03,472.14 L699.06,471.49 L699.09,470.81 L699.12,470.57 L699.15,469.88 L699.19,469.51 L699.22,469.16 L699.25,468.06 L699.28,468.08 L699.31,467.69 L699.34,467.13 L699.38,466.75 L699.41,465.85 L699.44,465.22 L699.47,464.80 L699.50,464.07 L699.53,464.01 L699.57,463.14 L699.60,463.15 L699.63,462.75 L699.66,461.85 L699.69,461.57 L699.73,460.75 L699.76,460.74 L699.79,460.19 L699.82,459.52 L699.85,458.93 L699.88,458.06 L699.92,458.23 L699.95,457.05 L699.98,457.20 L700.01,456.39 L700.04,456.24 L700.07,455.32 L700.11,454.79 L700.14,454.50 L700.17,454.06 L700.20,453.46 L700.23,452.57 L700.27,452.17 L700.30,451.83 L700.33,451.28 L700.36,451.00 L700.39,450.72 L700.42,449.99 L700.46,449.46 L700.49,448.59 L700.52,448.26 L700.55,448.11 L700.58,447.63 L700.61,446.66 L700.65,446.54 L700.68,446.15 L700.71,445.70 L700.74,444.87 L700.77,444.33 L700.80,443.60 L700.84,443.25 L700.87,442.61 L700.90,442.43 L700.90,699.10 L700.91,699.07 L700.93,698.07 L700.94,697.49 L700.95,697.58 L700.97,696.88 L700.98,696.37 L701.00,695.91 L701.01,694.99 L701.02,694.50 L701.04,694.17 L701.05,693.76 L701.06,693.30 L701.08,692.96 L701.09,692.36 L701.10,691.79 L701.12,691.50 L701.13,690.84 L701.15,689.99 L701.16,689.80 L701.17,689.21 L701.19,688.70 L701.20,688.09 L701.21,687.94 L701.23,687.10 L701.24,686.54 L701.25,686.41 L701.27,686.01 L701.28,685.59 L701.30,684.61 L701.31,683.95 L701.32,683.83 L701.34,683.64 L701.35,682.61 L701.36,682.20 L701.38,682.08 L701.39,681.41 L701.40,680.87 L701.42,680.46 L701.43,679.56 L701.45,679.27 L701.46,678.60 L701.47,678.37 L701.49,677.90 L701.50,677.31 L701.51,676.98 L701.53,676.06 L701.54,675.78 L701.55,674.96 L701.57,674.62 L701.58,674.02 L701.60,673.66 L701.61,673.58 L701.62,673.09 L701.64,672.15 L701.65,671.84 L701.66,671.14 L701.68,670.62 L701.69,670.29 L701.70,670.10 L701.72,669.59 L701.73,669.07 L701.75,668.60 L701.76,668.05 L701.77,667.06 L701.79,666.46 L701.81,666.17 L701.84,665.48 L701.87,665.10 L701.91,664.57 L701.94,664.28 L701.98,664.07 L702.01,663.39 L702.05,662.89 L702.08,662.23 L702.12,661.99 L702.15,661.35 L702.19,661.06 L702.22,659.91 L702.26,659.61 L702.30,659.32 L702.33,658.59 L702.37,658.12 L702.40,657.60 L702.44,657.41 L702.47,656.49 L702.51,656.34 L702.54,655.46 L702.58,655.25 L702.61,654.71 L702.65,653.93 L702.69,653.71 L702.72,652.90 L702.76,652.68 L702.79,652.26 L702.83,651.45 L702.86,650.93 L702.90,650.44 L702.93,649.78 L702.97,649.64 L703.00,649.17 L703.04,648.87 L703.08,647.79 L703.11,647.45 L703.15,647.40 L703.18,646.59 L703.22,646.03 L703.25,645.50 L703.29,645.07 L703.32,644.72 L703.36,643.71 L703.39,643.50 L703.43,642.71 L703.46,642.23 L703.50,641.92 L703.54,641.25 L703.57,640.78 L703.61,640.44 L703.64,640.22 L703.68,639.77 L703.71,638.94 L703.75,638.26 L703.78,637.97 L703.82,637.31 L703.85,637.15 L703.89,636.73 L703.92,635.56 L703.96,635.07 L704.00,635.03 L704.03,634.70 L704.07,633.70 L704.10,633.45 L704.14,632.51 L704.17,632.51 L704.21,631.83 L704.24,631.66 L704.28,631.13 L704.31,630.04 L704.35,629.59 L704.39,629.38 L704.42,628.53 L704.46,628.35 L704.49,627.96 L704.53,627.28 L704.56,626.71 L704.60,626.58 L704.63,625.99 L704.67,625.39 L704.70,624.82 L704.74,623.97 L704.78,623.49 L704.81,623.29 L704.85,622.85 L704.88,622.05 L704.92,621.70 L704.95,621.02 L704.99,620.91 L705.02,620.12 L705.06,619.48 L705.09,619.35 L705.13,618.55 L705.17,618.28 L705.20,617.42 L705.24,617.15 L705.28,616.50 L705.33,615.86 L705.37,615.68 L705.41,615.23 L705.45,614.62 L705.49,614.02 L705.53,613.70 L705.58,612.75 L705.62,612.19 L705.66,611.81 L705.70,611.66 L705.74,611.02 L705.78,610.35 L705.83,610.10 L705.87,609.36 L705.91,608.85 L705.95,608.65 L705.99,608.28 L706.03,607.78 L706.08,606.77 L706.12,606.49 L706.16,605.72 L706.20,605.18 L706.24,604.70 L706.28,604.55 L706.33,604.06 L706.37,603.33 L706.41,602.73 L706.45,602.21 L706.49,601.73 L706.53,601.55 L706.58,600.75 L706.62,600.13 L706.66,600.05 L706.70,599.06 L706.74,599.10 L706.78,598.21 L706.83,597.98 L706.87,597.28 L706.91,596.90 L706.95,596.36 L706.99,595.80 L707.03,595.54 L707.08,594.77 L707.12,594.25 L707.16,593.90 L707.21,593.18 L707.26,592.61 L707.32,592.30 L707.38,591.66 L707.45,590.98 L707.51,590.76 L707.57,590.09 L707.63,589.71 L707.69,589.44 L707.75,589.03 L707.82,588.55 L707.88,587.41 L707.94,587.49 L708.00,587.03 L708.06,586.14 L708.12,585.62 L708.18,585.17 L708.25,584.42 L708.31,584.33 L708.37,583.52 L708.43,582.99 L708.49,582.67 L708.55,582.43 L708.62,581.40 L708.68,581.24 L708.74,581.00 L708.80,580.46 L708.86,579.45 L708.92,579.04 L708.98,578.37 L709.05,578.40 L709.11,577.39 L709.17,577.28 L709.23,576.94 L709.29,576.33 L709.35,575.94 L709.42,575.28 L709.48,574.38 L709.54,573.97 L709.61,573.97 L709.69,572.94 L709.77,572.58 L709.86,572.12 L709.94,571.84 L710.03,571.51 L710.12,570.85 L710.20,569.90 L710.29,569.34 L710.38,569.13 L710.46,568.38 L710.55,568.05 L710.63,567.70 L710.72,567.11 L710.81,566.50 L710.89,566.03 L710.98,565.94 L711.07,565.28 L711.15,564.31 L711.24,564.05 L711.32,563.72 L711.41,563.38 L711.50,562.41 L711.58,562.26 L711.67,561.71 L711.76,560.76 L711.84,560.20 L711.93,559.72 L712.02,559.23 L712.12,559.15 L712.22,558.19 L712.34,558.21 L712.46,557.60 L712.58,557.35 L712.70,556.42 L712.82,556.35 L712.94,555.90 L713.06,555.10 L713.18,554.54 L713.30,554.16 L713.42,553.87 L713.54,553.42 L713.66,552.77 L713.78,551.98 L713.90,551.36 L714.02,551.44 L714.14,550.93 L714.26,550.13 L714.38,549.60 L714.50,549.52 L714.62,548.69 L714.74,548.05 L714.86,547.91 L714.98,547.66 L715.10,546.92 L715.22,546.04 L715.34,545.65 L715.46,545.25 L715.59,545.23 L715.74,544.20 L715.92,543.79 L716.11,543.14 L716.32,542.85 L716.52,542.76 L716.73,541.90 L716.93,541.74 L717.14,541.44 L717.34,540.36 L717.55,539.98 L717.76,539.59 L717.96,538.87 L718.17,538.41 L718.37,538.55 L718.58,538.13 L718.78,537.28 L718.99,537.14 L719.22,536.18 L719.48,535.88 L719.80,535.66 L720.16,535.00 L720.53,534.89 L720.91,534.46 L721.28,534.34 L721.66,533.86 L722.04,533.15 L722.42,532.94 L722.79,532.50 L723.17,532.14 L723.55,531.79 L723.94,531.43 L724.35,530.96 L724.79,531.07 L725.26,531.31 L725.74,532.04 L726.22,532.26 L726.70,532.32 L727.18,532.72 L727.66,532.88 L728.14,533.01 L728.61,533.01 L729.07,533.22 L729.50,533.41 L729.91,534.36 L730.32,534.26 L730.73,535.04 L731.13,534.70 L731.54,535.38 L731.95,536.00 L732.35,535.70 L732.76,536.69 L733.17,536.85 L733.57,536.84 L733.98,537.65 L734.38,537.86 L734.77,537.83 L735.13,538.65 L735.44,538.58 L735.71,539.45 L735.97,539.88 L736.23,540.21 L736.49,540.56 L736.75,540.85 L737.01,541.20 L737.26,541.83 L737.52,542.08 L737.78,542.80 L738.04,543.29 L738.29,543.83 L738.55,544.03 L738.81,544.52 L739.07,545.18 L739.33,545.37 L739.58,545.62 L739.84,546.62 L740.09,546.57 L740.33,546.96 L740.57,547.55 L740.80,548.44 L741.03,548.85 L741.27,548.86 L741.50,549.70 L741.73,550.33 L741.97,550.84 L742.20,551.03 L742.43,551.72 L742.67,551.83 L742.90,552.07 L743.13,552.63 L743.37,553.17 L743.60,553.48 L743.83,554.59 L744.07,555.08 L744.30,555.48 L744.53,555.69 L744.77,556.08 L745.01,556.47 L745.26,557.09 L745.52,557.24 L745.77,558.13 L746.03,558.28 L746.29,559.05 L746.55,559.00 L746.81,559.57 L747.06,560.41 L747.32,560.83 L747.58,561.18 L747.84,561.57 L748.09,562.31 L748.35,562.53 L748.61,562.73 L748.87,563.10 L749.13,563.71 L749.39,564.51 L749.66,564.41 L749.96,565.33 L750.29,565.65 L750.66,565.62 L751.03,565.89 L751.41,566.30 L751.78,567.00 L752.16,567.19 L752.54,567.89 L752.92,568.15 L753.29,568.41 L753.67,568.91 L754.05,569.40 L754.43,569.76 L754.83,569.69 L755.24,570.08 L755.67,570.32 L756.11,570.87 L756.54,571.37 L756.98,571.30 L757.41,571.28 L757.85,571.77 L758.29,571.97 L758.72,572.34 L759.16,572.97 L759.59,573.23 L760.03,573.21 L760.46,573.60 L760.89,573.40 L761.31,574.09 L761.72,574.44 L762.13,574.93 L762.54,574.97 L762.95,575.29 L763.36,575.93 L763.77,575.76 L764.18,576.66 L764.59,576.81 L764.99,577.26 L765.38,577.60 L765.77,577.60 L766.15,578.31 L766.54,578.51 L766.92,578.78 L767.31,578.77 L767.69,579.37 L768.08,579.75 L768.46,579.80 L768.85,580.27 L769.23,580.71 L769.62,580.86 L770.01,581.22 L770.40,581.65 L770.80,581.79 L771.20,582.24 L771.60,582.62 L772.00,582.84 L772.40,583.14 L772.80,583.61 L773.20,584.10 L773.60,584.00 L774.00,584.51 L774.40,584.80 L774.80,585.34 L775.20,585.33 L775.60,585.69 L776.00,586.62 L776.40,586.70 L776.80,587.08 L777.20,587.13 L777.60,587.38 L778.00,587.79 L778.40,588.11 L778.80,588.69 L779.20,588.96 L779.60,589.81 L780.00,589.52 L780.40,589.84 L780.80,590.23 L781.20,590.50 L781.60,591.16 L782.00,591.42 L782.40,591.68 L782.80,592.46 L783.20,592.63 L783.60,592.57 L784.00,592.82 L784.40,593.70 L784.80,594.00 L785.21,593.77 L785.63,594.62 L786.07,594.75 L786.53,595.16 L786.99,595.40 L787.45,595.40 L787.92,596.06 L788.38,595.77 L788.85,596.68 L789.31,596.34 L789.77,597.05 L790.24,597.19 L790.70,597.55 L791.17,597.98 L791.65,598.04 L792.12,598.07 L792.59,598.39 L793.06,598.36 L793.54,598.40 L794.01,598.58 L794.48,598.86 L794.95,599.50 L795.43,599.36 L795.90,599.73 L796.37,599.67 L796.85,600.19 L797.32,600.24 L797.79,600.15 L798.26,600.20 L798.74,600.88 L799.21,600.65 L799.68,601.24 L800.16,600.99 L800.63,601.63 L801.12,601.73 L801.63,601.53 L802.14,601.88 L802.66,602.19 L803.18,602.02 L803.70,602.19 L804.22,602.34 L804.74,602.42 L805.26,603.20 L805.77,602.85 L806.28,603.27 L806.77,603.22 L807.24,603.51 L807.72,604.18 L808.19,603.93 L808.66,604.08 L809.14,604.86 L809.61,604.86 L810.08,605.05 L810.55,605.63 L811.03,605.46 L811.50,605.97 L811.97,605.92 L812.45,606.13 L812.92,606.54 L813.39,606.49 L813.86,606.42 L814.34,606.78 L814.81,607.39 L815.28,607.20 L815.76,607.59 L816.23,607.78 L816.72,608.09 L817.23,607.96 L817.74,608.32 L818.26,608.26 L818.78,608.33 L819.30,608.35 L819.82,609.02 L820.34,608.66 L820.86,609.01 L821.38,609.31 L821.90,609.09 L822.42,609.20 L822.94,609.31 L823.46,609.10 L823.97,608.70 L824.47,609.07 L824.94,609.14 L825.40,609.30 L825.85,609.12 L826.30,609.48 L826.75,610.14 L827.20,610.09 L827.65,610.09 L828.10,610.49 L828.54,610.71 L828.99,611.13 L829.43,611.25 L829.87,611.98 L830.31,611.96 L830.76,612.25 L831.20,612.22 L831.64,612.66 L832.09,612.93 L832.53,613.37 L832.97,613.42 L833.41,613.88 L833.86,614.54 L834.32,614.57 L834.78,615.11 L835.25,615.01 L835.73,615.37 L836.21,615.81 L836.68,615.70 L837.16,616.01 L837.64,616.21 L838.12,616.53 L838.59,616.59 L839.07,617.14 L839.55,617.03 L840.02,617.16 L840.49,617.43 L840.95,617.68 L841.40,618.14 L841.85,618.56 L842.30,618.53 L842.75,618.57 L843.20,618.75 L843.65,619.44 L844.10,619.40 L844.55,619.36 L845.00,620.05 L845.45,620.36 L845.90,620.68 L846.35,620.84 L846.81,620.48 L847.28,621.17 L847.75,621.33 L848.23,621.43 L848.71,621.48 L849.18,621.74 L849.66,622.43 L850.14,622.34 L850.62,622.80 L851.09,623.00 L851.57,623.34 L852.05,623.57 L852.52,623.58 L853.00,623.66 L853.48,624.15 L853.95,624.22 L854.43,624.81 L854.91,624.93 L855.38,625.19 L855.86,625.54 L856.34,625.77 L856.82,625.85 L857.29,626.34 L857.77,626.55 L858.25,626.81 L858.72,626.57 L859.20,627.29 L859.67,627.36 L860.15,627.53 L860.62,627.96 L861.10,628.27 L861.58,628.45 L862.05,628.14 L862.53,628.95 L863.00,628.71 L863.48,629.26 L863.97,629.83 L864.45,629.65 L864.93,630.28 L865.42,630.31 L865.91,630.34 L866.40,630.84 L866.90,630.70 L867.40,630.64 L867.90,629.90 L868.40,629.87 L868.89,629.73 L869.39,629.75 L869.87,630.12 L870.36,630.46 L870.85,630.57 L871.34,630.12 L871.82,630.45 L872.31,630.59 L872.77,631.23 L873.23,631.01 L873.67,631.66 L874.10,631.57 L874.53,631.93 L874.97,632.57 L875.40,632.85 L875.83,633.18 L876.27,633.22 L876.71,633.99 L877.16,634.25 L877.61,634.07 L878.06,634.53 L878.52,634.59 L878.97,634.72 L879.43,635.47 L879.88,635.43 L880.34,635.34 L880.79,635.80 L881.24,635.92 L881.66,636.69 L882.07,636.50 L882.45,636.96 L882.83,637.20 L883.21,637.38 L883.58,638.26 L883.96,638.47 L884.34,638.96 L884.72,639.26 L885.09,639.42 L885.47,639.74 L885.85,640.16 L886.23,640.28 L886.61,640.85 L887.01,640.77 L887.42,641.41 L887.83,641.82 L888.23,641.75 L888.64,642.01 L889.05,642.59 L889.46,643.16 L889.87,643.17 L890.27,643.39 L890.68,644.09 L891.09,644.44 L891.50,644.46 L891.90,644.72 L892.30,645.26 L892.70,645.43 L893.10,645.66 L893.50,646.58 L893.90,646.72 L894.30,646.83 L894.70,647.25 L895.12,647.58 L895.58,647.89 L896.10,648.36 L896.66,648.31 L897.24,647.83 L897.81,648.28 L898.36,648.19 L898.89,648.23 L899.40,648.34 L899.90,649.00 L900.40,649.51 L900.89,649.12 L901.34,649.92 L901.69,649.88 L901.89,649.27 L901.99,649.11 L902.05,648.60 L902.10,648.08 L902.15,647.51 L902.20,647.13 L902.25,646.65 L902.30,645.70 L902.35,645.37 L902.40,645.14 L902.45,644.05 L902.50,643.86 L902.55,643.51 L902.60,643.07 L902.65,642.39 L902.70,641.78 L902.75,641.24 L902.80,640.57 L902.88,640.11 L903.00,639.85 L903.20,639.49 L903.45,639.04 L903.71,638.54 L903.99,637.60 L904.26,637.11 L904.53,636.61 L904.82,637.01 L905.12,636.88 L905.43,637.05 L905.74,637.68 L906.05,638.23 L906.36,638.58 L906.67,638.63 L906.98,639.32 L907.28,639.38 L907.57,640.01 L907.86,640.66 L908.14,641.17 L908.41,641.33 L908.69,642.11 L908.97,642.34 L909.25,642.59 L909.53,643.70 L909.81,643.86 L910.09,644.35 L910.36,644.49 L910.64,645.37 L910.92,645.34 L911.19,645.85 L911.47,646.76 L911.73,647.14 L912.00,647.34 L912.27,647.54 L912.53,648.22 L912.80,648.44 L913.07,648.59 L913.33,649.66 L913.60,649.10 L913.87,650.71 L914.13,649.79 L914.40,651.44 L914.67,650.76 L914.94,652.50 L915.23,651.33 L915.53,653.19 L915.85,652.52 L916.18,654.15 L916.51,653.42 L916.83,655.16 L917.16,653.98 L917.49,656.06 L917.81,654.25 L918.14,656.93 L918.47,654.72 L918.79,657.71 L919.12,655.99 L919.45,658.82 L919.77,657.00 L920.10,659.27 L920.42,657.63 L920.75,660.77 L921.08,658.81 L921.40,661.03 L921.72,659.59 L922.05,662.24 L922.38,660.41 L922.70,662.78 L923.02,661.19 L923.35,663.52 L923.68,661.47 L924.02,664.35 L924.36,662.90 L924.71,664.81 L925.07,663.34 L925.43,666.04 L925.79,664.28 L926.14,666.42 L926.50,664.35 L926.86,666.89 L927.21,665.12 L927.57,667.82 L927.93,666.44 L928.29,668.94 L928.65,666.36 L929.04,669.22 L929.46,667.31 L929.89,669.00 L930.34,666.81 L930.78,669.55 L931.23,667.25 L931.67,670.15 L932.12,667.93 L932.56,670.38 L933.01,668.93 L933.44,671.80 L933.86,669.50 L934.24,672.44 L934.60,670.80 L934.95,673.84 L935.30,671.97 L935.65,674.30 L936.00,672.08 L936.35,674.59 L936.70,672.76 L937.05,675.12 L937.40,673.17 L937.75,676.33 L938.10,674.11 L938.45,676.59 L938.81,674.87 L939.18,677.67 L939.55,675.56 L939.93,678.51 L940.31,676.51 L940.68,679.27 L941.06,676.86 L941.44,679.87 L941.82,677.63 L942.19,680.32 L942.57,678.16 L942.95,681.09 L943.33,678.70 L943.72,681.75 L944.12,679.96 L944.53,682.90 L944.95,680.43 L945.37,683.56 L945.78,680.99 L946.20,683.69 L946.62,681.68 L947.03,683.57 L947.45,682.09 L947.87,684.68 L948.28,682.82 L948.69,685.01 L949.09,683.17 L949.48,686.02 L949.87,684.56 L950.26,687.41 L950.64,684.89 L951.03,687.71 L951.42,686.16 L951.81,689.46 L952.20,687.48" fill="none" stroke="#0072bd" stroke-width="2.25" stroke-linejoin="round" clip-path="url(#c2)"/>
<path d="M252.6,442.4 L252.6,698.6 M330.5,442.4 L330.5,698.4 M579.6,442.4 L579.6,699.2 M700.9,442.4 L700.9,699.3" stroke="#0072bd" stroke-width="2.6" fill="none"/>
<text transform="translate(82.70 344.10) scale(1 1.03)" text-anchor="middle" class="t">0</text>
<text transform="translate(191.19 344.10) scale(1 1.03)" text-anchor="middle" class="t">3</text>
<text transform="translate(299.68 344.10) scale(1 1.03)" text-anchor="middle" class="t">6</text>
<text transform="translate(408.16 344.10) scale(1 1.03)" text-anchor="middle" class="t">9</text>
<text transform="translate(516.65 344.10) scale(1 1.03)" text-anchor="middle" class="t">12</text>
<text transform="translate(625.14 344.10) scale(1 1.03)" text-anchor="middle" class="t">15</text>
<text transform="translate(733.62 344.10) scale(1 1.03)" text-anchor="middle" class="t">18</text>
<text transform="translate(842.11 344.10) scale(1 1.03)" text-anchor="middle" class="t">21</text>
<text transform="translate(950.60 344.10) scale(1 1.03)" text-anchor="middle" class="t">24</text>
<text transform="translate(70.80 35.20) scale(1 1.03)" text-anchor="end" class="t">-65</text>
<text transform="translate(70.80 92.72) scale(1 1.03)" text-anchor="end" class="t">-70</text>
<text transform="translate(70.80 150.24) scale(1 1.03)" text-anchor="end" class="t">-75</text>
<text transform="translate(70.80 207.76) scale(1 1.03)" text-anchor="end" class="t">-80</text>
<text transform="translate(70.80 265.28) scale(1 1.03)" text-anchor="end" class="t">-85</text>
<text transform="translate(70.80 322.80) scale(1 1.03)" text-anchor="end" class="t">-90</text>
<text transform="translate(82.70 742.10) scale(1 1.03)" text-anchor="middle" class="t">0</text>
<text transform="translate(191.19 742.10) scale(1 1.03)" text-anchor="middle" class="t">3</text>
<text transform="translate(299.68 742.10) scale(1 1.03)" text-anchor="middle" class="t">6</text>
<text transform="translate(408.16 742.10) scale(1 1.03)" text-anchor="middle" class="t">9</text>
<text transform="translate(516.65 742.10) scale(1 1.03)" text-anchor="middle" class="t">12</text>
<text transform="translate(625.14 742.10) scale(1 1.03)" text-anchor="middle" class="t">15</text>
<text transform="translate(733.62 742.10) scale(1 1.03)" text-anchor="middle" class="t">18</text>
<text transform="translate(842.11 742.10) scale(1 1.03)" text-anchor="middle" class="t">21</text>
<text transform="translate(950.60 742.10) scale(1 1.03)" text-anchor="middle" class="t">24</text>
<text transform="translate(68.80 435.20) scale(1 1.03)" text-anchor="end" class="t">200</text>
<text transform="translate(68.80 506.60) scale(1 1.03)" text-anchor="end" class="t">100</text>
<text transform="translate(73.00 578.00) scale(1 1.03)" text-anchor="end" class="t">0</text>
<text transform="translate(69.80 649.40) scale(1 1.03)" text-anchor="end" class="t">-100</text>
<text transform="translate(69.80 720.80) scale(1 1.03)" text-anchor="end" class="t">-200</text>
<text transform="translate(495.9 17) scale(1 1.07)" text-anchor="middle" class="ti">NPM20240214.txt</text>
<text transform="translate(496.3 772) scale(1 1.07)" text-anchor="middle" class="xl">Time (hours after midnight UTC)</text>
<text transform="translate(29.9 182.8) rotate(-90) scale(1 1.03)" text-anchor="middle" class="xl">Amplitude (dB)</text>
<text transform="translate(18.5 579.4) rotate(-90) scale(1 1.03)" text-anchor="middle" class="xl">Phase (degrees)</text>
</svg>
</body></html>
